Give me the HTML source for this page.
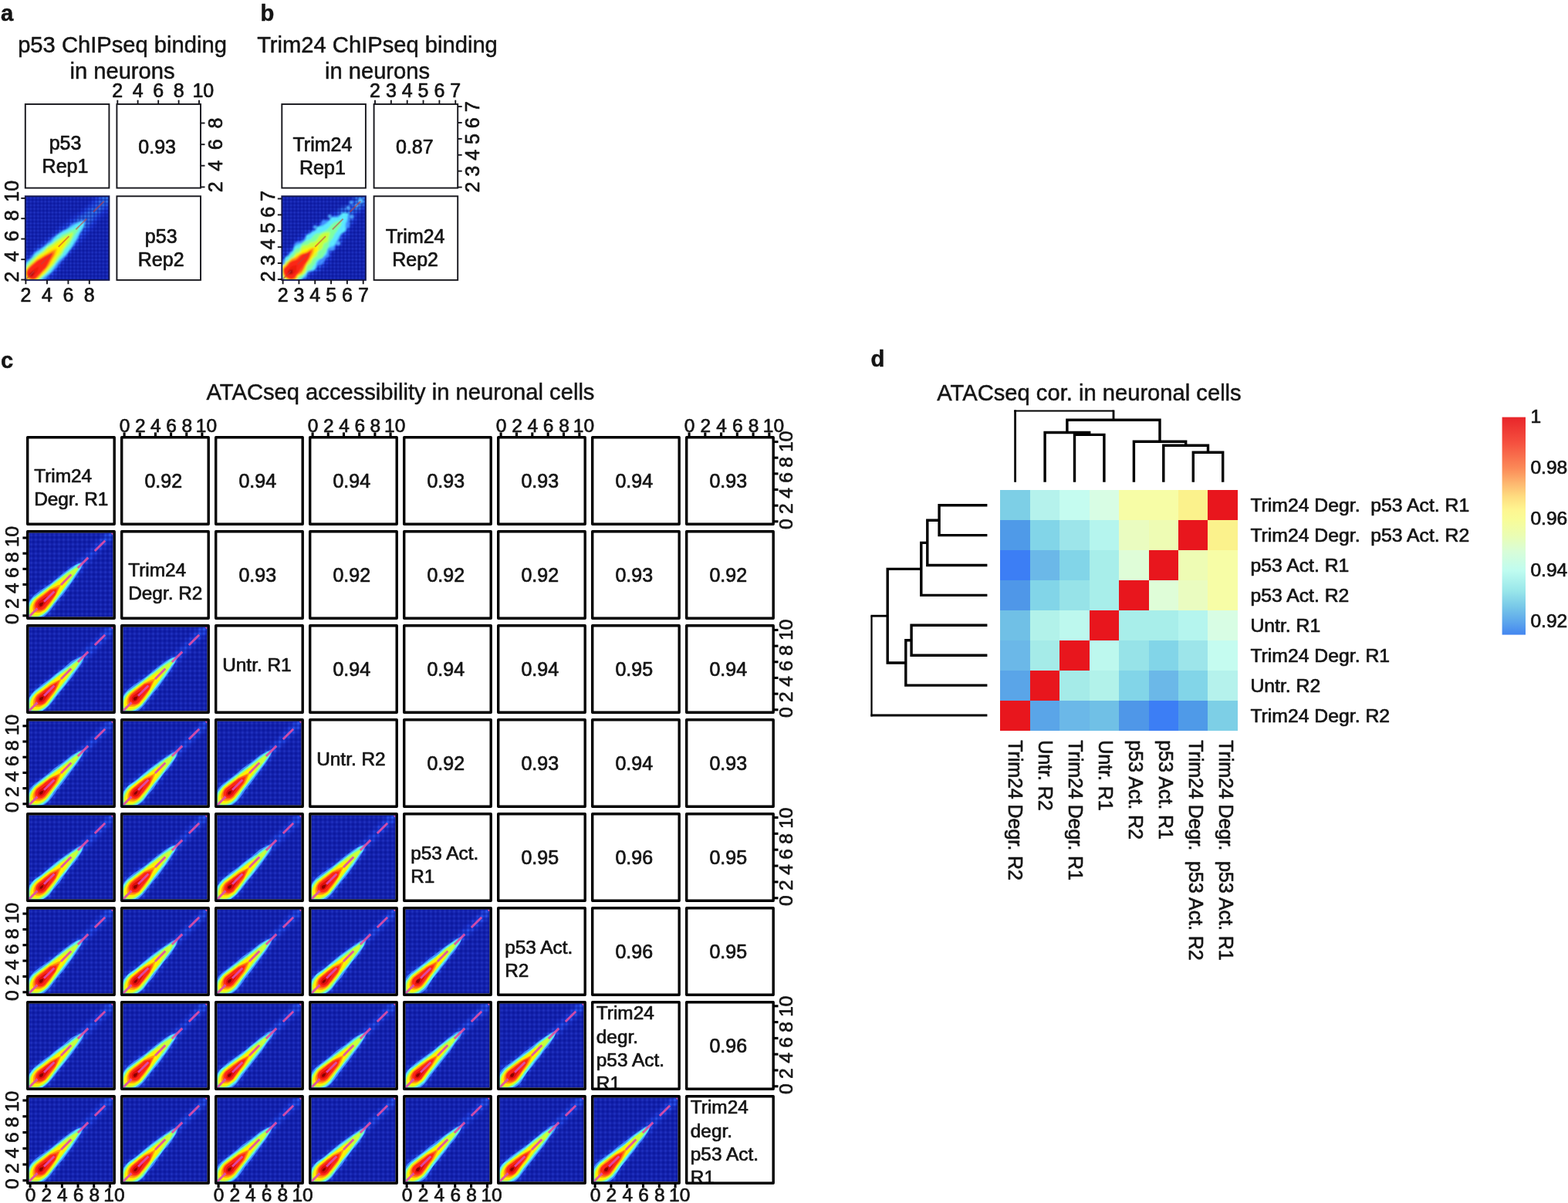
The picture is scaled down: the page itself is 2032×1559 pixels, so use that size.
<!DOCTYPE html>
<html lang="en"><head><meta charset="utf-8"><title>Figure</title>
<style>
html,body{margin:0;padding:0;background:#fff;overflow:hidden}
svg{display:block}
text{font-family:"Liberation Sans",sans-serif;fill:#141414;stroke:#141414;stroke-width:0.7px;stroke-linejoin:round}
.t{stroke-width:0.5px}
</style></head><body>
<svg width="2032" height="1559" viewBox="0 0 2032 1559" font-size="25">
<rect width="2032" height="1559" fill="#fff"/>
<defs>
<filter id="bl0" x="-5%" y="-5%" width="110%" height="110%"><feGaussianBlur stdDeviation="0.6"/></filter>
<filter id="bl1" x="-5%" y="-5%" width="110%" height="110%"><feGaussianBlur stdDeviation="0.8"/></filter>
<filter id="bl2" x="-10%" y="-10%" width="120%" height="120%"><feGaussianBlur stdDeviation="2.2"/></filter>
<clipPath id="clip112"><rect width="112.6" height="112.6"/></clipPath>
<clipPath id="clip108"><rect width="108.6" height="108.6"/></clipPath>
<linearGradient id="gh" x1="0" x2="1" y1="0" y2="0"><stop offset="0" stop-color="#000a8c" stop-opacity=".5"/><stop offset=".5" stop-color="#000a8c" stop-opacity="0"/><stop offset="1" stop-color="#000a8c" stop-opacity=".5"/></linearGradient>
<linearGradient id="gv" x1="0" x2="0" y1="0" y2="1"><stop offset="0" stop-color="#000a8c" stop-opacity=".5"/><stop offset=".5" stop-color="#000a8c" stop-opacity="0"/><stop offset="1" stop-color="#000a8c" stop-opacity=".5"/></linearGradient>
<pattern id="grid2" width="4.7" height="4.7" patternUnits="userSpaceOnUse"><rect width="4.7" height="4.7" fill="url(#gh)"/><rect width="4.7" height="4.7" fill="url(#gv)"/></pattern>
<pattern id="grid" width="6.2" height="6.2" patternUnits="userSpaceOnUse"><rect width="6.2" height="6.2" fill="url(#gh)"/><rect width="6.2" height="6.2" fill="url(#gv)"/></pattern>
<g id="dc_fat0"><rect width="112.6" height="112.6" fill="#2234c4"/><g clip-path="url(#clip112)"><g filter="url(#bl2)"><path d="M-4.9,117.5L-6.9,112.8L-7.6,109.2L-7.5,105.1L-6.9,101.4L-5.6,97.1L-3.7,93.3L-0.9,89.1L2.5,85.4L4.7,83.4L14.7,76.3L44.9,52.9L55.7,45.2L67.0,38.2L69.4,36.3L88.5,17.3L99.3,6.9L112.1,-7.2L116.7,-4.1L120.8,1.5L114.2,7.6L104.6,17.8L93.2,29.0L84.4,38.6L77.2,45.5L75.8,47.0L71.0,53.5L61.4,68.0L50.8,82.8L47.0,87.5L38.4,97.3L35.4,101.3L30.8,108.1L28.9,110.3L24.3,114.2L19.9,116.9L15.0,119.1L9.5,120.7L5.8,121.2L2.8,121.0L-1.2,119.9L-4.9,117.5Z" fill="#2a46ec"/><path d="M-3.2,115.8L-4.6,113.0L-5.5,109.2L-5.5,106.3L-4.9,102.7L-3.6,98.4L-1.8,94.5L1.0,90.2L3.7,87.2L6.0,85.2L14.2,79.3L30.8,66.1L41.7,58.5L53.2,48.8L56.5,46.4L65.2,40.9L69.4,38.0L89.0,20.7L95.5,14.5L98.9,10.8L103.9,4.4L109.5,-1.3L113.6,-5.7L116.7,-4.1L119.5,0.2L110.1,10.6L100.6,18.2L93.4,25.1L89.3,29.5L81.2,37.0L77.7,40.7L74.6,44.7L65.6,58.3L52.5,75.0L44.0,86.4L36.4,95.8L33.5,100.0L29.2,107.0L27.2,109.3L24.1,111.8L19.6,114.4L14.7,116.6L9.4,118.4L5.6,118.9L2.4,118.5L0.4,117.9L-3.2,115.8Z" fill="#3262ff"/></g><rect width="112.6" height="112.6" fill="url(#grid)"/><g filter="url(#bl0)"><path d="M-1.7,114.3L-2.7,111.8L-3.7,108.0L-3.8,106.5L-3.6,103.9L-2.8,100.4L-1.6,97.3L-0.0,94.6L2.5,91.4L6.6,86.9L8.9,84.9L18.8,77.7L30.4,67.9L38.3,61.6L50.6,52.4L65.0,42.6L66.9,41.6L70.1,40.5L73.9,38.7L73.0,43.4L71.4,47.6L70.4,49.4L64.3,59.0L61.2,63.0L56.4,68.2L53.7,71.3L47.8,79.6L41.5,89.0L39.0,92.2L33.0,99.0L28.2,105.7L26.9,107.2L23.6,109.7L15.6,114.5L12.7,115.9L10.6,116.6L6.9,117.1L3.7,116.8L1.6,116.2L-1.7,114.3Z" fill="#408cff"/><path d="M-0.4,113.0L-1.6,109.0L-1.9,107.3L-1.8,104.6L-1.0,101.1L0.1,97.9L1.9,94.1L4.2,90.6L6.8,87.6L9.1,85.6L16.8,80.5L23.7,74.6L29.3,70.3L36.3,64.5L42.8,59.6L57.0,49.6L65.5,43.9L72.1,40.5L71.3,45.5L71.0,46.5L70.0,48.5L67.2,52.8L58.5,63.9L49.5,76.3L42.9,83.8L38.4,89.3L30.9,100.3L27.1,105.0L24.3,107.9L21.3,110.6L18.7,112.2L14.7,113.9L10.3,115.2L7.8,115.6L4.8,115.4L2.9,115.0L-0.4,113.0Z" fill="#5ce8ff"/><path d="M0.8,111.8L0.0,109.5L-0.7,106.0L-0.7,104.6L-0.3,102.1L0.7,98.9L2.1,96.0L4.3,92.6L6.3,90.3L8.5,88.3L14.3,84.1L22.6,76.9L32.6,69.9L49.8,55.9L65.5,44.8L68.2,43.3L70.2,42.4L70.2,43.8L69.8,46.3L69.4,47.3L68.3,49.0L63.5,55.5L57.3,63.5L50.7,72.5L42.4,82.5L32.8,95.6L27.6,103.2L25.7,105.5L22.6,108.0L18.3,110.8L14.6,112.8L11.5,113.9L9.1,114.3L6.1,114.2L4.3,113.8L0.8,111.8Z" fill="#80ffa0"/><path d="M2.3,110.3L1.4,108.0L1.0,106.2L1.0,103.4L1.6,101.1L2.8,98.1L4.9,94.4L6.7,92.0L9.5,89.0L22.0,78.7L30.5,72.9L41.8,64.2L49.2,58.8L57.5,51.4L62.1,48.9L67.2,45.4L64.4,52.6L63.4,54.5L62.3,56.2L58.5,60.9L47.9,74.7L42.8,81.0L34.5,92.6L25.3,103.4L22.3,106.1L18.2,109.2L15.6,110.9L12.7,112.2L10.4,112.8L7.5,112.7L5.6,112.3L2.3,110.3Z" fill="#c8ff3c"/><path d="M3.9,108.7L3.1,106.5L2.7,104.7L2.8,101.9L3.4,99.6L4.5,96.5L6.0,93.7L7.2,92.0L9.1,89.7L11.4,87.7L28.7,75.0L42.4,64.5L46.0,62.4L50.8,60.0L55.9,56.7L52.9,63.6L48.9,71.0L46.0,75.2L43.0,79.3L37.1,86.3L31.5,93.5L23.1,103.7L20.9,105.7L18.4,107.5L15.6,109.1L12.5,110.2L10.1,110.6L6.9,110.3L3.9,108.7Z" fill="#fff200"/><path d="M6.7,105.9L6.0,102.3L6.0,100.9L6.4,98.4L7.2,96.3L8.1,94.4L10.6,91.2L12.1,89.8L29.0,76.6L31.7,75.0L39.5,71.3L44.0,68.6L42.0,73.8L36.2,85.2L32.1,91.1L22.4,102.9L20.1,104.9L18.4,106.1L16.4,107.0L14.2,107.7L11.5,107.8L9.7,107.5L6.7,105.9Z" fill="#ffa010"/><path d="M8.8,103.8L8.2,100.3L8.4,97.6L9.6,94.6L10.7,92.8L12.0,91.2L21.3,83.4L28.8,78.1L30.6,77.1L35.7,75.0L40.2,72.4L38.8,78.1L36.2,84.0L32.5,88.9L22.3,101.6L20.8,102.9L19.0,104.0L17.1,104.9L14.8,105.4L11.7,105.2L8.8,103.8Z" fill="#ff5a14"/><path d="M10.6,102.0L10.0,100.0L9.8,98.3L9.9,96.9L10.6,94.8L12.3,92.2L13.8,90.8L30.2,78.5L37.2,75.4L36.4,80.3L35.2,83.4L26.1,95.9L22.2,100.6L19.7,102.4L17.7,103.3L16.5,103.6L13.5,103.4L10.6,102.0Z" fill="#fc2616"/><path d="M12.7,99.9L12.5,98.2L12.5,96.8L12.7,95.6L13.2,94.7L14.4,93.1L19.4,89.6L24.0,87.1L28.3,84.3L26.5,89.6L25.2,92.5L22.4,96.8L20.6,99.3L19.0,100.5L18.0,100.9L16.8,101.1L15.3,101.1L12.7,99.9Z" fill="#dc0e0c"/><path d="M14.4,98.2L14.6,97.0L15.8,95.2L16.7,94.5L19.7,92.9L18.8,96.6L18.2,97.5L17.3,98.2L16.1,98.5L14.4,98.2Z" fill="#8c0000"/></g><line x1="0" y1="112.6" x2="112.6" y2="0" stroke="#e04ea8" stroke-width="3" stroke-dasharray="19.5 12.5" stroke-dashoffset="3.3" opacity="0.92"/></g></g>
<g id="dc_fat1"><rect width="112.6" height="112.6" fill="#2234c4"/><g clip-path="url(#clip112)"><g filter="url(#bl2)"><path d="M-4.9,117.5L-6.7,114.4L-8.0,110.3L-8.2,108.7L-8.2,105.9L-7.5,100.9L-6.3,96.4L-4.1,91.6L-0.7,86.4L3.2,81.8L20.7,68.2L30.0,62.0L43.3,52.7L54.6,44.2L67.2,35.6L78.2,25.3L81.6,21.6L86.0,16.1L88.7,13.2L106.5,-2.9L111.5,-7.8L116.7,-4.1L120.6,1.3L109.6,11.5L100.7,20.9L92.5,28.4L80.6,40.5L77.9,43.4L76.1,45.8L72.9,51.1L70.6,54.5L62.0,65.7L50.1,80.7L47.2,84.9L41.6,93.4L33.8,103.9L30.5,109.1L27.3,113.0L24.2,115.6L20.7,117.7L15.5,119.6L10.7,120.5L5.4,120.8L2.1,120.4L-2.2,118.9L-4.9,117.5Z" fill="#2a46ec"/><path d="M-3.2,115.8L-5.3,112.2L-6.4,108.3L-6.6,105.3L-6.0,101.6L-4.7,97.3L-2.8,93.5L0.0,89.2L3.3,85.4L5.6,83.4L11.6,79.5L15.7,76.5L36.2,60.2L51.3,49.7L63.4,40.5L75.0,32.3L79.0,29.2L88.5,20.2L94.0,14.4L96.5,11.2L101.2,3.2L102.4,1.5L105.9,-2.1L109.7,-5.4L112.1,-7.2L116.7,-4.1L118.9,-0.5L109.0,9.5L99.4,16.9L91.6,23.4L87.3,27.6L84.0,31.3L74.0,44.1L62.3,60.7L55.6,71.1L52.8,75.3L44.0,86.3L35.2,98.8L28.8,106.6L24.9,109.8L19.8,113.2L15.2,115.7L11.0,117.2L7.5,118.0L4.9,118.2L3.4,118.1L-0.5,117.0L-3.2,115.8Z" fill="#3262ff"/></g><rect width="112.6" height="112.6" fill="url(#grid)"/><g filter="url(#bl0)"><path d="M-1.7,114.3L-3.9,110.7L-4.5,108.7L-4.8,105.5L-4.3,101.7L-2.8,97.5L-0.7,93.8L2.7,88.7L5.9,84.8L8.9,82.1L12.1,79.6L30.7,66.8L44.7,55.1L56.1,46.5L62.3,42.8L65.2,41.3L69.4,39.9L73.9,38.7L70.0,47.6L62.2,59.8L46.7,81.4L39.4,89.7L28.3,104.3L25.6,107.3L22.6,110.1L19.4,112.5L15.6,114.5L12.5,115.6L8.9,116.3L6.2,116.4L4.6,116.3L0.7,115.3L-1.7,114.3Z" fill="#408cff"/><path d="M-0.4,113.0L-2.1,109.9L-2.6,108.0L-2.9,104.9L-2.5,102.4L-1.3,98.0L0.4,94.0L2.6,90.4L5.2,87.4L7.5,85.4L15.8,79.5L27.2,71.0L34.2,65.2L42.3,59.1L49.4,53.4L63.3,43.1L65.1,42.1L66.1,41.7L72.1,40.5L69.0,47.5L66.7,50.8L61.8,57.3L57.0,65.3L51.9,71.5L47.6,77.2L41.9,84.3L37.0,90.7L31.1,97.7L26.9,103.4L24.9,105.7L21.0,108.9L16.9,111.8L14.1,113.3L11.0,114.5L8.6,114.9L5.7,114.9L2.0,114.0L-0.4,113.0Z" fill="#5ce8ff"/><path d="M0.8,111.8L-1.0,108.5L-1.5,106.6L-1.6,103.6L-1.2,101.2L0.3,97.0L2.3,93.4L4.6,90.0L7.3,87.1L18.4,78.4L27.5,71.9L35.2,65.5L43.4,59.5L52.0,52.6L56.3,49.8L62.5,46.1L65.9,43.7L67.9,42.9L70.2,42.4L69.4,44.5L68.4,46.3L64.2,52.0L54.9,65.4L43.8,79.7L30.2,98.7L25.7,104.1L22.7,106.7L19.3,109.0L15.6,111.0L11.6,112.6L9.4,113.2L6.8,113.4L3.3,112.8L0.8,111.8Z" fill="#80ffa0"/><path d="M2.3,110.3L0.6,107.3L0.2,105.4L0.1,103.9L0.5,101.4L1.5,98.2L3.4,94.4L5.1,91.8L7.7,88.7L10.0,86.7L21.4,78.1L29.1,71.6L37.3,65.5L46.9,58.0L57.9,50.4L67.2,45.4L63.1,52.8L62.0,54.5L51.9,67.2L46.6,74.8L30.9,96.1L25.7,102.4L23.6,104.6L20.6,107.3L18.1,109.1L15.3,110.6L12.2,111.7L9.7,112.1L6.7,112.0L4.9,111.5L2.3,110.3Z" fill="#c8ff3c"/><path d="M3.9,108.7L2.3,105.7L1.9,103.9L1.8,102.3L2.1,99.7L2.7,97.5L4.0,94.6L5.7,92.0L7.7,89.7L10.0,87.7L17.0,81.9L31.2,71.8L40.7,64.3L42.5,63.2L50.1,59.4L55.9,56.7L52.9,62.2L49.2,69.8L48.1,71.6L35.3,87.4L27.1,99.2L24.0,103.1L21.7,105.1L19.0,106.7L15.2,108.6L12.0,109.7L9.5,110.0L8.0,109.9L6.2,109.6L3.9,108.7Z" fill="#fff200"/><path d="M6.7,105.9L5.3,103.1L5.0,101.3L5.1,98.5L5.7,96.3L7.0,93.3L8.7,90.7L10.0,89.2L13.2,86.6L28.8,74.9L38.6,70.4L44.0,68.6L41.4,73.2L36.6,82.8L31.6,90.6L29.2,94.0L22.7,101.8L21.2,103.2L18.6,104.9L16.7,105.8L14.6,106.6L12.1,107.0L10.6,106.9L8.9,106.7L6.7,105.9Z" fill="#ffa010"/><path d="M8.8,103.8L7.3,100.8L7.1,99.1L7.1,97.7L7.7,95.5L8.6,93.6L10.3,91.0L11.7,89.5L14.8,86.9L20.6,82.7L26.0,78.1L28.5,76.3L31.5,75.1L40.2,72.4L36.5,81.6L35.6,83.5L29.0,92.6L22.1,101.3L20.5,102.6L18.7,103.6L15.4,104.6L12.6,104.7L8.8,103.8Z" fill="#ff5a14"/><path d="M10.6,102.0L9.1,99.1L8.8,97.4L8.9,95.9L9.5,93.7L11.3,91.2L29.0,77.2L29.9,76.8L32.2,76.1L37.2,75.4L35.7,81.1L34.8,83.1L26.1,94.5L21.6,100.0L19.1,101.9L17.1,102.7L15.9,102.9L12.8,102.7L10.6,102.0Z" fill="#fc2616"/><path d="M12.7,99.9L11.7,97.4L11.7,96.0L11.9,94.8L12.3,93.8L13.5,92.1L20.0,87.4L22.9,86.0L28.3,84.3L23.5,92.2L19.3,98.0L17.8,99.3L16.9,99.8L14.4,100.1L12.7,99.9Z" fill="#dc0e0c"/><path d="M14.4,98.2L14.0,96.4L14.3,95.1L14.9,94.3L15.9,93.7L18.3,93.1L19.7,92.9L19.0,95.3L17.9,97.3L17.1,97.9L16.0,98.3L14.4,98.2Z" fill="#8c0000"/></g><line x1="0" y1="112.6" x2="112.6" y2="0" stroke="#e04ea8" stroke-width="3" stroke-dasharray="19.5 12.5" stroke-dashoffset="3.3" opacity="0.92"/></g></g>
<g id="dc_mid0"><rect width="112.6" height="112.6" fill="#2234c4"/><g clip-path="url(#clip112)"><g filter="url(#bl2)"><path d="M-4.9,117.5L-6.6,114.5L-7.8,110.4L-7.9,107.5L-7.1,102.7L-5.7,98.4L-3.3,93.7L0.1,88.6L4.0,84.1L5.5,82.7L44.5,52.4L48.6,49.5L58.9,42.8L66.9,36.7L69.1,34.6L77.3,25.9L84.8,19.2L91.9,12.2L97.5,6.5L105.7,-2.3L111.7,-7.6L116.7,-4.1L121.0,1.6L110.3,12.2L104.1,18.7L94.1,28.6L88.7,34.4L79.1,43.2L76.3,46.1L64.9,60.1L61.4,65.1L53.6,77.1L44.8,88.2L36.0,100.5L30.6,107.8L29.2,109.3L23.9,113.9L19.8,116.8L15.1,119.2L10.8,120.5L5.7,121.2L2.7,120.9L-1.5,119.6L-4.9,117.5Z" fill="#2a46ec"/><path d="M-3.2,115.8L-4.4,113.2L-5.3,109.4L-5.4,107.9L-5.2,105.3L-4.4,101.8L-2.9,97.6L-0.4,93.0L2.4,88.7L5.6,84.8L7.9,82.9L12.1,80.0L26.7,70.5L32.6,66.4L35.7,63.8L42.1,57.6L45.2,54.9L62.6,42.5L69.5,36.7L78.4,28.6L88.1,21.2L89.5,19.9L96.4,12.5L104.5,2.2L109.3,-2.9L113.0,-6.3L116.7,-4.1L119.8,0.5L110.3,10.8L100.5,18.1L93.6,23.9L84.7,33.5L77.8,42.1L71.8,50.3L64.8,58.9L57.6,68.8L40.2,89.7L36.1,95.4L29.3,105.7L26.7,108.7L22.8,112.0L19.3,114.1L14.5,116.4L9.2,118.2L5.5,118.8L2.3,118.5L0.3,117.9L-3.2,115.8Z" fill="#3262ff"/></g><rect width="112.6" height="112.6" fill="url(#grid)"/><g filter="url(#bl0)"><path d="M-1.7,114.3L-2.9,111.6L-3.8,107.9L-3.8,105.1L-3.1,101.5L-2.0,98.4L0.1,94.8L4.2,89.0L6.8,85.9L20.1,75.2L27.6,69.9L36.1,62.8L46.0,55.7L56.5,46.4L59.1,44.7L66.5,40.8L71.6,38.8L75.5,37.1L72.1,46.4L70.6,49.1L68.3,52.5L63.4,58.9L57.6,67.3L47.5,79.9L41.1,87.6L32.5,98.8L26.6,105.8L22.1,109.7L18.0,112.7L14.4,114.8L10.3,116.4L6.7,117.0L3.6,116.8L1.6,116.2L-1.7,114.3Z" fill="#408cff"/><path d="M-0.4,113.0L-1.8,110.3L-2.5,106.7L-2.3,104.0L-1.5,100.5L-0.3,97.4L1.7,93.8L4.1,90.5L7.4,86.7L9.8,84.8L17.4,79.6L23.9,74.7L37.0,63.6L43.5,58.7L52.9,52.5L59.2,47.4L66.7,42.1L68.6,41.1L73.6,39.0L72.2,43.2L71.2,45.2L64.6,55.6L55.8,66.7L48.1,77.5L39.6,87.5L27.3,103.7L25.3,106.0L21.5,109.3L17.5,112.4L14.7,113.9L11.6,115.1L7.9,115.7L4.8,115.4L2.9,114.9L-0.4,113.0Z" fill="#5ce8ff"/><path d="M0.8,111.8L-0.4,109.1L-1.0,105.7L-0.8,103.0L-0.2,100.7L1.0,97.7L2.6,95.1L5.1,91.9L7.9,89.0L10.1,87.0L18.3,81.0L30.8,70.9L45.3,59.8L53.1,53.5L62.1,46.9L67.7,42.6L69.6,41.6L71.7,40.9L71.1,43.1L70.2,45.1L65.5,51.7L56.1,63.6L45.4,78.3L39.0,86.2L33.8,93.6L25.2,105.0L22.1,107.5L18.6,109.7L14.8,111.5L10.7,113.1L8.3,113.5L5.5,113.5L3.7,113.2L0.8,111.8Z" fill="#80ffa0"/><path d="M2.3,110.3L1.4,108.0L1.0,106.2L1.0,103.3L1.5,101.0L2.6,97.9L4.1,95.0L6.4,91.6L8.4,89.3L9.8,87.9L23.4,77.2L30.9,71.9L42.2,63.2L50.5,57.3L60.1,49.8L68.6,44.0L64.7,51.5L63.0,54.1L46.7,74.8L38.9,84.2L25.8,102.4L23.8,104.8L20.8,107.4L18.2,109.2L15.4,110.7L12.3,111.8L9.8,112.2L6.8,112.1L5.0,111.6L2.3,110.3Z" fill="#c8ff3c"/><path d="M3.9,108.7L3.1,106.5L2.6,103.2L3.1,99.4L3.8,97.3L5.2,94.4L6.4,92.8L8.4,90.5L10.7,88.5L18.2,83.3L42.8,63.9L50.1,59.9L57.0,55.6L51.7,65.8L49.6,69.4L37.6,84.3L30.2,95.3L23.9,103.2L21.6,105.2L18.2,107.5L15.4,108.9L12.3,110.1L10.0,110.5L8.5,110.5L6.8,110.2L3.9,108.7Z" fill="#fff200"/><path d="M6.7,105.9L5.8,103.5L5.5,101.8L5.7,99.1L6.3,96.9L7.3,95.0L9.0,92.4L10.3,90.8L11.8,89.5L19.3,84.1L28.9,76.5L31.6,74.9L39.4,71.2L44.7,67.9L41.9,73.7L35.9,84.9L31.8,90.8L22.8,101.9L21.3,103.2L18.7,104.9L15.8,106.4L13.6,107.1L11.0,107.3L9.3,107.1L6.7,105.9Z" fill="#ffa010"/><path d="M8.8,103.8L8.1,101.6L7.8,99.9L8.1,97.3L9.3,94.3L10.4,92.5L11.7,91.0L16.5,87.2L30.7,77.2L40.9,71.7L37.8,80.1L35.9,83.8L24.2,99.2L22.2,101.5L20.6,102.7L18.8,103.8L16.8,104.6L14.5,105.2L11.4,104.9L8.8,103.8Z" fill="#ff5a14"/><path d="M10.6,102.0L9.9,99.9L9.9,97.0L10.6,94.8L12.4,92.3L21.7,84.4L29.9,78.4L31.7,77.4L37.8,74.8L36.5,79.3L35.2,82.3L26.5,93.5L22.3,99.4L21.0,101.0L18.5,102.7L16.3,103.4L14.9,103.4L13.3,103.2L10.6,102.0Z" fill="#fc2616"/><path d="M12.7,99.9L12.4,98.1L12.6,95.5L13.0,94.5L14.2,92.9L15.7,91.6L19.9,88.7L28.3,84.3L26.3,89.4L25.0,92.3L20.1,98.8L18.5,100.0L16.3,100.7L14.9,100.7L12.7,99.9Z" fill="#dc0e0c"/><path d="M14.4,98.2L14.2,96.6L14.6,95.4L15.2,94.6L16.2,94.0L19.7,92.9L19.2,95.6L18.9,96.7L18.3,97.6L17.4,98.2L16.1,98.5L14.4,98.2Z" fill="#8c0000"/></g><line x1="0" y1="112.6" x2="112.6" y2="0" stroke="#e04ea8" stroke-width="3" stroke-dasharray="19.5 12.5" stroke-dashoffset="3.3" opacity="0.92"/></g></g>
<g id="dc_mid1"><rect width="112.6" height="112.6" fill="#2234c4"/><g clip-path="url(#clip112)"><g filter="url(#bl2)"><path d="M-4.9,117.5L-7.6,113.5L-8.8,109.5L-9.0,106.4L-8.3,101.4L-7.0,97.2L-4.5,92.5L-1.5,88.4L2.5,84.0L4.8,82.0L14.9,75.1L23.6,68.4L36.6,58.7L48.5,49.4L61.9,40.1L68.3,35.3L83.8,21.0L86.4,18.0L91.9,10.7L94.5,7.7L96.8,5.8L105.5,-1.1L112.1,-7.2L116.7,-4.1L120.5,1.2L115.6,6.1L106.6,15.6L93.7,26.7L90.1,30.1L84.5,35.8L79.2,41.9L77.3,44.2L70.6,54.6L66.0,61.2L60.4,68.4L46.4,85.5L42.8,90.4L35.5,101.4L29.8,108.5L24.5,113.0L19.6,116.7L15.1,119.2L10.9,120.6L8.5,121.1L5.8,121.3L2.7,121.0L-1.4,119.6L-4.9,117.5Z" fill="#2a46ec"/><path d="M-3.2,115.8L-5.4,112.1L-6.1,110.1L-6.5,106.8L-5.9,103.1L-4.4,98.9L-2.0,94.3L0.8,90.0L4.1,86.2L6.4,84.2L10.7,81.4L14.0,79.0L29.5,66.2L47.8,51.8L52.7,48.3L60.5,43.3L64.7,40.4L69.5,36.7L78.7,28.9L82.5,25.6L91.8,16.4L96.3,12.4L99.6,8.6L103.8,3.0L113.0,-6.4L116.7,-4.1L117.7,-1.6L114.5,2.3L109.8,8.9L107.6,11.0L100.3,16.4L97.3,19.1L92.4,24.1L88.5,28.8L76.5,42.3L68.3,52.5L52.1,74.6L45.3,83.4L37.2,95.2L34.0,99.1L27.2,106.5L22.0,111.1L18.7,113.6L15.1,115.6L11.1,117.3L7.6,118.0L4.9,118.2L3.4,118.1L-0.5,117.0L-3.2,115.8Z" fill="#3262ff"/></g><rect width="112.6" height="112.6" fill="url(#grid)"/><g filter="url(#bl0)"><path d="M-1.7,114.3L-3.4,111.2L-4.3,107.4L-4.3,104.6L-3.7,101.0L-2.6,97.8L-0.8,94.0L2.2,89.8L5.5,86.1L24.7,71.2L34.6,62.7L45.5,55.2L57.4,45.8L60.9,43.6L66.3,40.6L75.5,37.1L71.5,45.8L65.6,55.4L58.2,65.0L46.9,80.7L37.5,92.6L31.7,100.9L28.5,104.9L26.5,107.1L23.5,109.7L20.1,112.0L14.3,114.7L10.1,116.2L6.5,116.8L3.4,116.6L1.5,116.0L-1.7,114.3Z" fill="#408cff"/><path d="M-0.4,113.0L-1.8,110.3L-2.5,106.7L-2.3,104.0L-1.8,101.7L-0.7,98.5L1.2,94.7L4.1,90.5L7.4,86.6L12.0,82.7L24.1,73.4L38.8,62.6L57.6,47.2L67.2,41.1L73.6,39.0L71.1,45.1L65.4,53.6L58.6,62.5L52.9,69.5L48.0,76.1L42.9,82.3L36.1,91.1L33.7,94.4L27.5,103.9L25.6,106.3L22.5,108.9L19.1,111.2L15.3,113.1L11.1,114.6L8.8,115.1L6.1,115.2L2.5,114.5L-0.4,113.0Z" fill="#5ce8ff"/><path d="M0.8,111.8L-0.8,108.7L-1.2,106.8L-1.4,103.9L-1.0,101.4L0.1,98.3L2.1,94.6L4.6,91.4L7.3,88.4L17.2,79.9L27.7,72.0L34.7,66.2L50.5,55.1L62.2,45.6L67.3,42.1L69.3,41.4L71.7,40.9L70.6,44.1L69.6,45.9L66.7,50.1L61.7,56.4L55.7,64.6L50.2,71.8L43.1,80.3L32.1,94.8L27.5,100.1L24.4,104.1L22.4,106.3L19.3,109.0L16.7,110.6L13.8,112.0L10.6,113.0L8.2,113.5L5.3,113.4L3.4,112.9L0.8,111.8Z" fill="#80ffa0"/><path d="M2.3,110.3L1.2,107.9L0.9,106.1L0.8,103.2L1.2,100.8L2.3,97.5L3.7,94.6L5.8,91.1L8.4,87.9L11.5,85.3L19.2,80.2L31.2,70.8L41.3,63.8L49.9,56.7L59.5,49.2L68.6,44.0L63.9,52.1L62.2,54.7L55.0,63.2L50.7,68.9L46.2,74.4L41.1,82.1L35.3,89.2L30.1,96.8L25.1,103.2L23.0,105.4L20.8,107.4L18.2,109.2L15.3,110.6L12.1,111.6L9.7,112.0L6.7,111.9L4.8,111.5L2.3,110.3Z" fill="#c8ff3c"/><path d="M3.9,108.7L2.5,105.9L2.2,104.2L2.1,102.7L2.5,100.2L3.6,97.0L5.0,94.3L7.4,90.9L9.4,88.7L12.6,86.2L26.6,76.1L35.8,68.3L42.2,63.4L48.5,59.7L57.0,55.6L51.5,64.2L48.4,69.6L39.6,82.0L35.9,86.8L29.4,94.5L24.2,102.0L22.8,103.6L20.6,105.5L18.0,107.2L15.1,108.6L12.0,109.7L9.5,110.1L8.1,110.1L6.3,109.8L3.9,108.7Z" fill="#fff200"/><path d="M6.7,105.9L5.3,103.0L5.0,101.3L5.2,98.6L5.9,96.5L7.3,93.5L8.9,90.9L10.2,89.3L12.6,87.4L28.4,75.9L30.2,74.9L36.2,72.2L44.7,67.9L42.3,72.6L39.2,79.6L37.3,83.4L24.8,99.6L22.8,101.9L21.3,103.3L18.8,105.0L16.9,106.0L14.8,106.8L12.3,107.2L10.8,107.1L9.1,106.8L6.7,105.9Z" fill="#ffa010"/><path d="M8.8,103.8L7.6,101.1L7.3,99.4L7.5,96.7L8.7,93.7L9.8,91.9L11.1,90.4L17.6,85.4L23.8,80.3L28.7,76.7L32.5,74.8L40.9,71.7L37.5,79.8L36.1,82.6L21.8,101.1L20.3,102.4L18.6,103.5L15.5,104.7L12.8,104.8L11.1,104.6L8.8,103.8Z" fill="#ff5a14"/><path d="M10.6,102.0L9.2,99.2L9.0,97.5L9.0,96.1L9.2,94.9L10.1,92.9L11.9,90.4L23.3,81.7L29.2,77.7L32.2,76.4L37.8,74.8L35.6,81.2L34.6,83.1L27.8,92.1L21.4,100.0L19.0,101.8L17.0,102.7L15.9,102.9L12.8,102.8L10.6,102.0Z" fill="#fc2616"/><path d="M12.7,99.9L12.0,97.7L12.0,96.3L12.3,95.2L12.7,94.2L13.9,92.6L21.4,87.4L28.3,84.3L24.7,92.0L19.9,98.5L18.3,99.8L17.3,100.2L16.2,100.5L14.8,100.5L12.7,99.9Z" fill="#dc0e0c"/><path d="M14.4,98.2L14.2,96.6L14.6,95.4L15.2,94.6L16.1,93.9L17.2,93.5L19.7,92.9L19.0,95.3L18.6,96.4L17.9,97.3L17.1,97.9L15.9,98.3L14.4,98.2Z" fill="#8c0000"/></g><line x1="0" y1="112.6" x2="112.6" y2="0" stroke="#e04ea8" stroke-width="3" stroke-dasharray="19.5 12.5" stroke-dashoffset="3.3" opacity="0.92"/></g></g>
<g id="dc_thin0"><rect width="112.6" height="112.6" fill="#2234c4"/><g clip-path="url(#clip112)"><g filter="url(#bl2)"><path d="M-4.9,117.5L-6.9,114.2L-8.1,110.1L-8.3,107.1L-7.7,102.1L-6.3,97.8L-3.9,93.1L-1.0,89.0L1.7,86.0L4.7,83.3L28.6,66.2L41.2,56.2L53.2,45.6L68.9,34.4L71.2,32.5L83.5,20.8L97.0,6.0L111.3,-8.0L116.7,-4.1L120.8,1.4L116.2,6.8L112.7,10.4L92.1,29.3L83.5,37.7L79.3,42.0L66.6,57.6L59.2,68.6L56.9,71.9L49.1,81.1L42.9,89.1L37.7,96.5L30.6,107.8L28.6,110.1L24.9,113.4L20.7,116.3L15.9,118.6L11.6,119.9L7.9,120.5L3.7,120.5L0.1,119.8L-2.2,118.9L-4.9,117.5Z" fill="#2a46ec"/><path d="M-3.2,115.8L-5.5,112.0L-6.1,110.0L-6.5,106.8L-6.0,103.1L-4.6,98.8L-2.2,94.1L1.0,88.8L4.2,84.8L5.7,83.5L7.3,82.3L17.0,76.3L22.0,72.9L35.3,62.0L56.6,46.5L63.0,41.5L70.0,35.7L80.9,25.4L88.4,18.7L91.8,15.0L98.9,7.9L102.8,3.3L112.3,-7.1L116.7,-4.1L118.9,-0.4L109.3,9.8L106.0,12.2L98.2,17.2L95.1,19.7L91.5,23.2L74.7,46.1L59.0,64.5L50.6,76.0L40.6,88.6L28.0,105.8L25.3,108.8L22.4,111.5L18.2,114.5L14.5,116.4L10.2,117.8L6.6,118.4L3.7,118.4L-0.1,117.4L-3.2,115.8Z" fill="#3262ff"/></g><rect width="112.6" height="112.6" fill="url(#grid)"/><g filter="url(#bl0)"><path d="M-1.7,114.3L-3.8,110.7L-4.4,108.7L-4.7,105.6L-4.4,103.1L-3.7,100.9L-2.8,99.0L-0.3,94.4L2.6,90.2L5.3,87.2L13.5,79.8L24.4,72.2L38.4,62.0L45.2,56.1L50.9,51.8L56.9,46.5L62.9,42.5L67.6,38.6L69.4,37.7L77.2,35.4L74.5,42.8L72.9,45.4L66.5,53.2L59.8,63.6L54.0,70.5L47.9,78.6L39.0,89.6L27.4,105.1L24.8,108.1L21.8,110.8L18.4,113.1L14.5,114.9L10.2,116.2L6.5,116.8L3.4,116.5L1.4,116.0L-1.7,114.3Z" fill="#408cff"/><path d="M-0.4,113.0L-2.2,109.9L-2.6,108.0L-2.6,105.1L-2.1,102.7L-0.7,98.5L1.4,93.5L3.6,90.0L5.6,87.7L7.2,86.4L12.3,82.9L24.5,73.7L33.7,67.3L43.6,58.6L57.9,47.3L64.9,42.9L69.1,39.9L71.0,39.0L75.2,37.4L71.8,44.0L64.2,55.0L53.7,68.7L47.9,75.8L38.6,87.9L32.1,95.7L27.1,103.4L25.1,105.8L22.0,108.4L18.7,110.7L14.8,112.6L11.6,113.6L8.1,114.4L5.4,114.6L2.0,114.0L-0.4,113.0Z" fill="#5ce8ff"/><path d="M0.8,111.8L-0.7,108.8L-1.1,107.0L-1.2,104.1L-0.7,101.7L0.5,98.6L2.5,94.9L4.7,91.5L7.4,88.5L8.9,87.1L15.5,82.5L22.7,76.9L35.1,68.0L38.2,65.4L44.0,59.8L47.0,57.2L56.9,50.0L67.3,42.0L69.9,40.4L73.2,39.4L72.1,42.6L71.0,44.3L48.7,73.1L32.8,92.6L25.5,102.3L23.5,104.6L20.5,107.3L17.2,109.7L14.5,111.2L11.5,112.5L9.3,113.1L6.7,113.4L3.3,112.8L0.8,111.8Z" fill="#80ffa0"/><path d="M2.3,110.3L1.3,107.9L0.9,104.7L1.1,102.0L1.6,99.7L2.8,96.6L4.3,93.8L6.1,91.4L8.2,89.1L16.9,82.2L34.1,69.4L48.2,57.9L56.5,51.9L61.1,47.9L64.6,45.7L70.0,42.6L63.3,53.0L54.9,63.1L48.8,69.9L36.9,86.4L30.4,94.3L26.6,100.4L24.7,102.8L22.4,104.8L17.3,108.3L14.6,109.9L11.7,111.2L9.4,111.7L6.5,111.7L4.7,111.4L2.3,110.3Z" fill="#c8ff3c"/><path d="M3.9,108.7L2.4,105.8L2.1,104.1L2.1,102.7L2.7,100.3L3.9,97.3L5.9,93.6L7.7,91.1L9.7,88.8L11.2,87.5L22.8,79.1L30.6,74.0L39.1,66.8L43.9,63.1L50.9,58.7L58.2,54.4L51.8,65.2L50.0,67.8L40.5,79.6L35.0,87.0L30.4,92.4L25.2,100.0L23.3,102.4L20.2,105.0L16.9,107.4L14.1,108.9L12.1,109.7L9.7,110.2L8.2,110.2L6.4,109.8L3.9,108.7Z" fill="#fff200"/><path d="M6.7,105.9L5.6,103.3L5.3,101.6L5.5,98.9L6.2,96.8L7.2,94.9L8.9,92.3L10.9,90.0L15.5,86.0L18.7,83.5L29.0,76.5L39.0,70.7L45.5,67.1L36.5,82.5L30.7,89.6L24.7,98.1L22.2,101.3L19.9,103.3L17.4,105.1L15.5,106.1L13.4,106.8L10.7,107.0L9.1,106.8L6.7,105.9Z" fill="#ffa010"/><path d="M8.8,103.8L7.6,101.1L7.4,99.5L7.4,98.1L7.6,96.9L8.4,94.8L9.5,93.1L10.8,91.5L16.5,87.3L22.8,82.2L30.1,76.7L34.7,74.2L41.5,71.1L35.4,82.1L27.4,92.5L22.1,100.0L20.8,101.5L19.2,102.8L17.4,103.8L15.4,104.6L14.2,104.9L12.8,104.9L11.2,104.7L8.8,103.8Z" fill="#ff5a14"/><path d="M10.6,102.0L9.5,99.5L9.3,97.9L9.4,96.5L9.7,95.4L10.5,93.4L12.4,91.0L15.6,88.5L31.5,77.3L33.3,76.3L38.4,74.2L35.5,79.9L34.4,81.7L21.4,99.9L19.0,101.8L17.0,102.7L15.8,102.9L12.8,102.8L10.6,102.0Z" fill="#fc2616"/><path d="M12.7,99.9L12.3,98.1L12.8,95.7L13.2,94.7L14.4,93.1L16.0,91.8L22.8,87.3L28.3,84.3L24.4,91.7L19.8,98.5L18.3,99.8L17.3,100.2L16.2,100.5L14.7,100.5L12.7,99.9Z" fill="#dc0e0c"/><path d="M14.4,98.2L14.2,96.6L14.6,95.4L15.2,94.6L17.2,93.6L19.7,92.9L18.6,96.4L18.0,97.3L17.1,98.0L16.0,98.3L14.4,98.2Z" fill="#8c0000"/></g><line x1="0" y1="112.6" x2="112.6" y2="0" stroke="#e04ea8" stroke-width="3" stroke-dasharray="19.5 12.5" stroke-dashoffset="3.3" opacity="0.92"/></g></g>
<g id="dc_thin1"><rect width="112.6" height="112.6" fill="#2234c4"/><g clip-path="url(#clip112)"><g filter="url(#bl2)"><path d="M-4.9,117.5L-6.9,114.2L-8.1,110.1L-8.3,107.1L-7.7,102.1L-6.5,97.6L-4.4,92.6L-1.3,87.2L1.8,83.3L4.1,81.3L13.0,76.1L16.4,73.9L28.4,64.6L42.4,54.6L55.9,45.5L62.3,40.6L69.8,33.9L77.4,26.0L111.7,-7.7L116.7,-4.1L120.9,1.6L110.5,11.0L100.1,21.8L89.0,31.9L84.2,37.0L76.7,46.5L68.8,55.6L61.1,66.3L53.2,76.7L41.8,90.7L37.8,96.6L31.3,108.5L29.4,110.9L27.2,112.9L24.8,114.8L20.4,117.4L15.4,119.5L10.9,120.7L5.8,121.2L2.7,120.9L-1.5,119.6L-4.9,117.5Z" fill="#2a46ec"/><path d="M-3.2,115.8L-4.6,112.9L-5.7,109.0L-5.8,107.5L-5.7,104.8L-5.0,101.2L-3.4,97.1L-1.5,93.4L1.3,89.1L5.1,84.4L8.1,81.7L12.9,78.0L25.8,69.6L36.7,60.7L45.7,54.0L55.3,46.6L65.3,39.6L85.4,24.2L89.0,20.8L94.9,13.8L102.7,3.2L112.9,-6.4L116.7,-4.1L119.0,-0.3L109.9,10.4L105.9,13.5L98.5,18.9L92.4,24.1L85.9,31.8L76.9,41.2L69.6,50.9L58.8,65.8L46.0,82.7L37.8,93.0L34.3,98.0L28.9,106.7L26.9,109.0L23.1,112.3L19.7,114.6L15.0,117.0L10.8,118.4L8.4,118.9L5.8,119.1L2.6,118.7L0.6,118.1L-3.2,115.8Z" fill="#3262ff"/></g><rect width="112.6" height="112.6" fill="url(#grid)"/><g filter="url(#bl0)"><path d="M-1.7,114.3L-3.1,111.4L-3.9,107.8L-3.9,105.0L-3.0,100.2L-2.0,96.9L-0.1,93.1L2.3,89.8L5.0,86.9L8.0,84.2L23.7,72.9L31.3,66.3L41.3,59.2L52.4,50.5L68.3,39.4L77.2,35.4L75.2,40.6L73.8,43.5L67.3,54.0L65.5,56.4L58.9,64.1L53.6,71.5L48.5,77.8L44.3,83.5L36.9,91.8L34.6,95.2L29.4,104.2L28.2,105.9L26.9,107.4L23.8,109.9L19.3,112.6L14.5,114.9L10.2,116.3L7.9,116.7L5.1,116.8L1.4,115.9L-1.7,114.3Z" fill="#408cff"/><path d="M-0.4,113.0L-1.8,110.2L-2.6,106.6L-2.5,103.8L-2.0,101.5L-0.7,98.4L0.8,95.7L5.0,89.9L7.6,86.8L14.1,81.9L21.9,75.5L32.8,67.7L42.1,61.4L44.4,59.4L50.9,53.1L59.8,46.3L68.3,40.5L75.2,37.4L73.5,42.9L72.1,45.8L69.6,48.9L61.0,58.9L54.6,68.2L48.1,76.0L32.0,98.3L26.8,104.6L24.6,106.6L18.1,111.5L14.4,113.6L11.3,114.8L7.6,115.4L4.5,115.1L2.6,114.6L-0.4,113.0Z" fill="#5ce8ff"/><path d="M0.8,111.8L-0.6,108.9L-1.0,107.0L-1.1,104.2L-0.3,100.7L0.9,97.6L2.4,94.8L4.8,91.6L7.6,88.7L9.8,86.7L16.2,81.7L40.8,63.7L46.3,59.3L53.0,53.3L61.3,47.4L68.4,41.7L70.1,40.6L73.2,39.4L72.5,41.6L71.7,43.5L66.5,51.1L63.9,54.2L57.1,61.6L51.8,69.1L45.3,76.7L26.3,103.1L24.3,105.4L22.0,107.4L18.6,109.7L14.9,111.6L10.8,113.2L8.5,113.7L5.6,113.7L3.8,113.3L0.8,111.8Z" fill="#80ffa0"/><path d="M2.3,110.3L1.3,107.9L0.9,106.1L0.8,103.2L1.3,100.9L2.5,97.7L3.9,94.9L6.2,91.4L8.1,89.1L10.4,87.1L18.0,81.8L25.9,75.5L39.7,65.0L48.1,57.8L53.7,53.3L61.2,48.0L70.0,42.6L64.6,51.4L54.2,65.3L48.3,72.2L35.5,87.9L33.1,91.2L27.5,99.9L24.3,103.9L21.2,106.5L17.9,108.8L15.2,110.4L12.1,111.6L9.8,112.1L6.9,112.1L5.1,111.7L2.3,110.3Z" fill="#c8ff3c"/><path d="M3.9,108.7L2.9,106.3L2.6,104.5L2.6,101.7L3.1,99.3L3.9,97.3L5.4,94.5L7.2,92.1L9.2,89.8L11.5,87.7L20.4,81.0L30.8,72.8L39.2,66.9L44.5,62.2L47.2,60.6L53.7,57.2L58.2,54.4L50.4,68.1L47.5,72.4L45.7,74.8L39.5,81.5L30.2,95.0L27.0,99.0L23.7,102.8L20.6,105.4L17.3,107.8L14.5,109.3L12.4,110.1L10.0,110.5L8.5,110.5L6.7,110.1L3.9,108.7Z" fill="#fff200"/><path d="M6.7,105.9L5.8,103.5L5.5,101.8L5.4,100.3L5.9,97.9L6.6,95.7L7.6,93.8L9.3,91.3L10.7,89.8L19.5,82.8L28.7,76.2L37.3,71.8L45.5,67.1L40.8,76.8L37.8,82.4L30.8,91.2L25.0,99.7L23.1,102.1L21.6,103.5L19.0,105.2L16.1,106.6L13.9,107.3L11.2,107.5L9.5,107.2L6.7,105.9Z" fill="#ffa010"/><path d="M8.8,103.8L7.8,101.3L7.5,99.6L7.8,97.0L9.1,94.1L10.3,92.4L11.6,90.9L30.1,76.7L32.8,75.1L41.5,71.1L38.9,77.0L36.4,81.6L27.7,94.2L22.2,101.5L20.7,102.8L19.0,104.0L16.0,105.2L13.3,105.4L11.6,105.1L8.8,103.8Z" fill="#ff5a14"/><path d="M10.6,102.0L9.4,99.4L9.1,97.7L9.2,96.3L9.8,94.1L11.6,91.6L13.1,90.3L19.0,86.2L30.3,77.6L32.2,76.6L38.4,74.2L36.9,78.4L35.5,81.3L24.9,96.3L21.7,100.3L19.3,102.1L17.2,102.9L16.0,103.1L12.9,102.9L10.6,102.0Z" fill="#fc2616"/><path d="M12.7,99.9L13.6,96.5L14.1,95.6L15.4,94.0L28.3,84.3L24.8,92.1L22.0,96.4L20.1,98.8L18.5,100.0L17.5,100.4L16.3,100.6L14.9,100.6L12.7,99.9Z" fill="#dc0e0c"/><path d="M14.4,98.2L14.3,96.7L14.7,95.5L15.3,94.6L16.2,94.0L17.3,93.6L19.7,92.9L19.3,95.6L18.9,96.7L18.3,97.7L17.4,98.3L16.2,98.5L14.4,98.2Z" fill="#8c0000"/></g><line x1="0" y1="112.6" x2="112.6" y2="0" stroke="#e04ea8" stroke-width="3" stroke-dasharray="19.5 12.5" stroke-dashoffset="3.3" opacity="0.92"/></g></g>
<g id="da"><rect width="108.6" height="108.6" fill="#2236c6"/><g clip-path="url(#clip108)"><g filter="url(#bl2)"><path d="M-5.7,114.3L-8.9,109.6L-10.2,106.9L-11.0,104.6L-11.5,102.8L-11.6,101.2L-11.6,98.5L-11.0,96.2L-9.7,93.2L-4.8,86.8L-1.7,81.4L0.1,79.0L11.2,70.3L14.1,67.5L21.6,59.4L23.8,57.4L25.4,56.2L30.8,53.1L33.1,51.2L43.2,40.1L45.7,38.4L50.6,36.2L52.4,35.1L53.9,33.8L57.6,29.0L59.1,27.7L60.7,26.5L66.3,23.5L68.0,22.4L82.1,11.1L84.1,8.9L88.1,3.0L93.0,-3.5L95.6,-6.5L98.6,-9.2L105.3,-13.8L107.7,-15.6L116.7,-8.1L126.3,2.9L120.9,6.0L118.4,7.8L115.6,10.7L111.3,16.3L108.5,19.2L104.0,23.1L97.3,27.7L95.2,29.9L94.0,31.5L90.9,36.9L89.2,39.5L84.6,44.7L78.9,50.3L77.7,51.9L75.2,56.5L74.0,58.2L72.6,59.6L68.6,62.7L67.4,64.2L64.1,69.5L62.3,71.9L60.2,74.0L56.2,77.1L54.2,79.3L50.1,86.6L43.6,95.6L39.2,102.5L37.3,104.9L34.1,107.4L28.1,111.2L26.6,112.5L23.1,116.1L21.5,117.4L19.6,118.3L16.4,119.4L11.4,120.0L8.5,119.9L5.2,119.4L3.2,118.9L0.9,118.0L-1.8,116.7L-5.7,114.3Z" fill="#2a46ec"/><path d="M-3.9,112.5L-6.0,109.0L-7.3,106.3L-8.1,104.0L-8.6,102.1L-8.9,100.4L-9.0,97.4L-8.7,94.9L-8.1,92.7L-6.7,89.8L-4.8,87.5L-2.5,85.5L2.6,82.1L5.4,79.2L9.7,73.6L12.8,68.2L14.7,65.8L17.1,63.9L36.1,51.8L41.2,47.0L51.8,37.7L54.4,36.0L60.8,32.5L66.7,28.4L70.5,26.6L72.2,25.5L74.3,23.3L77.1,19.0L79.0,16.7L85.9,10.8L90.6,5.6L92.8,3.5L99.2,-1.5L101.4,-3.5L104.0,-6.5L107.4,-11.7L109.6,-13.7L116.7,-8.1L121.8,-1.6L120.5,1.4L119.4,3.2L117.2,5.2L113.5,7.2L111.9,8.4L110.6,9.9L108.2,13.2L106.0,15.3L104.3,16.4L99.6,18.8L97.3,20.8L93.0,27.8L91.0,30.1L85.3,35.7L83.3,38.0L77.3,47.6L74.2,51.6L70.0,55.9L68.8,57.5L65.6,62.8L63.8,65.3L61.2,68.4L55.7,74.2L50.7,80.5L44.4,87.0L42.6,89.5L38.8,95.6L35.4,100.7L33.9,102.1L30.0,105.2L28.5,106.6L27.3,108.2L24.6,112.6L23.4,114.2L21.8,115.5L20.9,116.0L17.6,117.0L13.8,117.4L8.1,117.4L4.9,117.0L2.8,116.3L0.3,115.3L-3.9,112.5Z" fill="#3262ff"/><path d="M56.6,52.0L55.9,49.9L55.6,46.8L55.8,45.6L56.5,43.5L57.6,41.7L58.8,40.1L64.6,34.6L68.6,28.7L69.9,27.2L71.5,26.0L76.4,23.8L78.2,22.7L84.9,16.7L86.7,15.7L90.8,14.2L92.5,13.0L94.2,10.5L96.0,6.6L98.5,2.0L99.6,0.3L100.9,-1.2L101.8,-1.8L104.2,-2.2L110.3,-1.7L110.8,4.5L110.2,6.7L109.6,7.4L108.7,8.0L105.2,10.1L102.8,12.0L100.7,14.1L98.3,17.4L95.7,20.4L91.6,23.4L90.1,24.8L88.9,26.4L85.8,31.8L81.7,37.6L79.5,39.6L74.3,42.9L72.0,44.9L70.8,46.5L69.0,50.3L67.8,52.0L67.1,52.7L65.2,53.6L62.9,54.1L61.4,54.0L59.7,53.7L56.6,52.0Z" fill="#408cff"/></g><rect width="108.6" height="108.6" fill="url(#grid2)"/><g filter="url(#bl1)"><path d="M-2.1,110.7L-4.8,105.2L-6.0,101.2L-6.4,96.6L-6.0,94.1L-5.7,93.0L-4.7,91.2L-2.7,88.9L-0.3,85.6L1.1,84.3L5.2,81.3L6.7,79.9L9.5,75.7L13.6,71.3L15.2,70.1L18.9,68.1L24.8,64.1L26.3,62.7L28.9,59.7L32.0,57.2L34.8,54.3L41.3,49.4L49.0,44.5L52.9,42.7L54.6,41.6L56.0,40.2L57.9,37.8L59.4,36.5L62.2,35.0L67.4,33.1L70.7,32.2L74.2,31.5L78.5,30.1L76.5,38.0L75.7,40.0L71.5,47.1L67.8,56.2L62.9,64.0L61.6,65.6L58.7,68.3L57.4,69.9L56.4,71.6L54.5,75.4L53.4,77.1L44.4,86.6L41.4,92.0L40.0,93.5L37.7,95.4L34.3,99.0L30.4,102.2L28.2,105.6L26.9,107.2L25.2,108.3L22.3,109.7L18.3,112.7L15.1,113.8L9.3,115.1L6.3,114.9L4.3,114.3L1.8,113.2L-2.1,110.7Z" fill="#408cff"/><path d="M-1.0,109.6L-3.3,105.9L-4.3,103.5L-4.8,101.5L-4.9,98.6L-4.7,97.4L-4.0,95.2L-2.6,92.4L-1.0,89.7L3.7,84.5L8.6,80.8L9.8,79.2L11.7,75.4L13.0,73.9L14.6,72.7L18.2,70.6L22.1,67.4L25.4,65.0L28.6,62.5L33.1,59.9L34.5,58.5L37.6,54.5L40.2,51.5L44.0,48.2L45.7,47.0L59.7,39.7L64.1,37.0L69.6,34.0L71.6,33.2L76.4,32.2L75.9,37.4L75.7,38.6L74.9,40.7L73.3,43.4L70.3,47.5L67.0,54.1L62.1,62.0L58.0,69.3L56.8,70.9L51.4,76.8L45.3,82.0L43.2,84.2L38.9,89.9L33.2,98.4L31.7,99.7L28.3,101.9L24.3,105.0L18.5,110.6L14.2,113.4L12.2,114.2L9.5,114.4L7.9,114.2L5.9,113.6L3.4,112.6L-1.0,109.6Z" fill="#5ce8ff"/><path d="M0.1,108.5L-1.8,103.6L-2.3,101.7L-2.4,98.7L-2.0,96.4L-0.7,93.3L0.8,90.6L8.2,80.9L9.8,79.6L14.1,76.8L18.9,73.1L23.2,70.2L24.8,68.9L28.8,64.4L30.4,63.2L35.9,60.1L39.5,56.6L43.9,53.8L46.6,50.8L48.1,49.5L54.2,47.0L59.7,43.9L66.6,40.9L70.0,38.6L69.4,42.3L68.7,44.5L67.6,46.2L64.6,50.3L60.3,57.4L57.6,63.2L56.3,64.8L51.8,68.9L50.7,70.6L48.9,74.5L47.8,76.3L41.3,84.1L33.9,93.7L32.5,95.2L27.7,99.0L25.0,101.9L21.3,105.4L18.1,109.3L15.3,110.8L13.2,111.5L10.8,112.0L8.0,112.1L6.2,111.7L4.0,110.9L0.1,108.5Z" fill="#80ffa0"/><path d="M1.1,107.5L-0.6,104.3L-1.3,102.2L-1.6,100.5L-1.4,97.9L-0.6,95.7L0.9,93.0L6.5,85.9L11.9,81.3L16.7,76.2L18.3,74.9L22.6,72.1L24.1,70.7L26.7,67.7L29.1,65.8L34.3,62.5L39.1,58.8L43.6,56.2L51.5,51.3L62.2,46.4L60.3,53.0L58.7,57.0L57.6,58.8L52.4,64.9L50.5,67.4L49.5,69.1L47.7,73.0L46.6,74.8L42.5,79.2L39.4,84.6L37.1,88.1L35.9,89.6L32.1,92.9L29.3,97.3L28.0,98.9L25.8,100.9L20.1,105.1L16.0,109.5L14.3,110.7L13.2,111.0L10.8,111.4L9.3,111.4L7.5,111.0L5.3,110.2L1.1,107.5Z" fill="#c8ff3c"/><path d="M2.0,106.6L-0.0,103.2L-0.6,101.2L-0.8,99.6L-0.7,98.2L-0.1,96.1L1.0,94.3L2.3,92.8L7.2,89.1L8.6,87.8L12.9,82.0L14.8,79.8L18.0,77.3L24.3,73.6L29.0,69.8L34.2,66.5L45.5,58.0L50.8,54.8L55.9,52.7L55.6,53.9L53.1,58.5L51.6,62.6L50.1,65.4L45.6,70.8L42.8,75.1L39.6,79.0L36.0,85.3L34.3,87.9L31.1,91.8L27.7,95.5L25.9,97.9L24.6,99.4L21.4,101.9L18.6,104.8L14.7,108.0L13.1,109.2L12.1,109.7L11.0,110.0L9.7,110.1L8.0,109.8L6.0,109.2L2.0,106.6Z" fill="#fff200"/><path d="M2.7,105.9L1.5,103.3L1.0,101.3L0.8,99.8L1.2,97.3L2.0,95.3L3.1,93.5L4.9,91.1L7.6,88.2L9.2,86.9L13.4,84.0L15.8,82.1L25.2,75.9L29.7,73.4L34.0,70.5L41.0,67.6L39.2,74.3L38.4,76.4L34.6,82.5L31.2,89.0L27.3,93.6L22.2,98.5L19.2,102.6L17.9,104.1L16.3,105.4L14.6,106.5L12.6,107.4L10.4,107.9L9.0,108.0L7.4,107.8L5.5,107.3L2.7,105.9Z" fill="#ffa010"/><path d="M3.1,105.5L1.9,102.8L1.3,100.8L1.2,99.2L1.3,98.0L1.7,96.9L2.9,95.3L5.8,92.4L10.5,87.1L14.1,83.5L15.8,82.4L20.9,80.3L28.7,75.2L33.7,73.0L37.5,71.1L36.5,75.8L35.6,77.9L32.3,83.1L27.6,92.7L25.7,95.1L17.7,102.9L14.2,106.5L12.5,107.8L11.5,108.2L10.4,108.4L8.8,108.4L6.9,107.9L3.1,105.5Z" fill="#ff5a14"/><path d="M3.5,105.1L2.5,102.6L2.0,100.7L1.9,99.2L2.0,97.9L2.3,96.8L3.2,94.8L5.7,91.7L8.0,89.8L13.0,86.2L16.8,82.9L23.6,78.5L27.4,76.6L34.6,74.0L34.5,75.3L34.0,77.6L33.3,79.6L27.1,91.9L26.5,92.6L23.4,95.2L20.5,99.4L18.2,101.3L16.8,102.8L14.6,106.3L13.8,106.9L12.9,107.3L10.3,107.6L6.7,106.8L3.5,105.1Z" fill="#fc2616"/><path d="M4.6,104.0L4.4,102.4L4.7,101.2L5.1,100.2L6.4,98.6L12.0,94.0L17.7,90.9L16.1,96.6L15.2,98.6L14.5,99.4L10.0,103.6L9.2,104.3L8.3,104.8L6.9,104.9L4.6,104.0Z" fill="#ec1a10"/><path d="M5.3,103.3L5.3,101.9L5.7,100.8L6.2,100.0L8.7,98.2L11.7,96.9L11.6,98.2L11.0,100.5L10.0,102.3L9.3,103.1L8.4,103.6L7.2,103.8L5.3,103.3Z" fill="#b00c0c"/></g><line x1="0" y1="108.6" x2="108.6" y2="0" stroke="#c83c3c" stroke-width="1.8" stroke-dasharray="19.5 12.5" stroke-dashoffset="3.3" opacity="0.6"/></g></g>
<g id="db"><rect width="108.6" height="108.6" fill="#2236c6"/><g clip-path="url(#clip108)"><g filter="url(#bl2)"><path d="M-4.2,112.8L-3.0,111.3L-4.1,108.7L-4.8,106.6L-5.5,103.1L-5.9,91.3L-5.8,88.7L-5.1,86.5L-3.5,83.9L-2.6,81.9L-1.6,77.3L-0.8,75.3L1.8,70.8L3.1,69.2L4.9,68.2L8.3,67.4L10.2,66.5L15.0,62.8L16.1,61.1L17.5,56.8L18.0,55.9L19.4,54.4L23.1,52.5L24.7,51.3L25.8,49.6L27.2,46.7L27.8,45.9L28.7,45.3L29.7,45.0L31.0,44.9L35.6,45.2L36.9,45.1L38.0,44.8L38.8,44.2L39.3,43.3L40.3,38.5L40.7,37.5L42.0,36.0L43.8,35.0L48.0,33.6L52.9,31.4L55.4,31.0L58.1,30.9L60.4,30.4L61.2,29.8L61.9,29.0L62.7,27.1L64.0,22.7L65.2,21.1L67.1,20.2L72.0,19.4L74.0,18.6L74.9,18.0L77.7,15.2L78.5,14.6L82.6,13.1L84.5,12.0L85.9,10.6L88.3,7.4L93.1,3.8L98.6,-2.2L101.1,-6.7L103.9,-12.4L106.9,-16.4L116.7,-8.1L123.4,0.0L117.4,4.0L115.8,5.2L115.2,6.0L114.8,7.0L114.1,12.0L113.7,13.0L112.9,13.7L112.0,14.1L108.6,15.0L107.7,15.5L107.0,16.2L105.0,19.8L104.3,20.5L103.3,21.0L99.1,22.4L98.2,22.9L97.5,23.6L97.0,24.6L96.7,25.7L96.8,31.5L96.6,32.7L96.1,33.6L94.6,34.9L91.0,37.0L89.6,38.4L89.2,39.4L88.3,42.8L88.1,49.7L87.9,50.9L87.5,51.8L86.8,52.5L85.8,52.9L82.0,53.5L81.0,53.8L80.2,54.5L79.7,55.3L77.9,60.7L75.7,64.1L74.2,65.4L70.2,67.1L68.6,68.3L68.1,69.2L67.2,71.1L65.2,77.7L64.1,80.7L59.9,87.9L58.6,89.4L52.6,93.3L50.6,94.1L47.1,94.9L46.0,95.2L45.2,95.8L44.5,96.6L44.1,97.5L43.2,100.8L42.6,101.7L41.1,103.0L37.3,104.9L35.8,106.2L34.0,108.7L32.5,109.9L30.3,110.6L29.0,110.7L25.8,110.4L19.0,109.2L17.7,109.3L16.7,109.7L16.1,110.5L15.8,111.6L15.4,115.5L14.9,116.5L14.3,117.2L13.4,117.7L11.2,118.4L8.8,118.8L7.3,118.8L5.6,118.5L3.3,117.6L0.4,116.0L-4.2,112.8Z" fill="#2a46ec"/><path d="M-2.5,111.1L-4.7,107.4L-6.0,104.7L-6.7,102.5L-7.1,100.8L-7.0,98.0L-6.5,95.7L-6.0,94.8L-4.8,93.2L-4.0,92.5L1.5,89.5L3.5,87.3L4.5,85.5L7.3,78.3L8.0,76.1L8.6,72.5L8.9,71.4L9.5,70.5L10.2,69.9L11.2,69.4L15.7,68.3L17.5,67.2L21.8,63.1L26.4,57.7L27.9,56.4L30.5,54.7L31.7,53.0L32.0,52.0L32.6,48.3L33.0,47.2L33.5,46.3L34.3,45.7L35.3,45.3L40.0,44.3L41.0,43.9L45.3,41.1L48.4,40.0L53.9,38.4L55.8,37.4L57.3,36.1L59.9,33.0L69.8,23.0L74.9,18.2L76.5,17.0L78.8,16.4L84.7,16.6L85.8,16.4L86.7,15.9L87.2,15.0L87.4,13.7L87.1,9.2L87.3,7.9L87.7,6.9L88.4,6.2L91.4,4.9L93.1,3.8L93.6,2.9L95.5,-0.8L96.2,-1.6L97.0,-2.2L99.3,-2.8L106.2,-3.0L109.9,-3.5L111.7,-4.5L112.4,-5.2L113.4,-7.1L114.1,-9.3L116.7,-8.1L118.9,-4.5L117.5,-3.0L116.5,-1.1L115.0,3.1L114.0,7.7L113.1,9.6L112.4,10.3L110.4,11.2L105.5,11.9L103.3,12.6L102.5,13.2L101.8,13.9L100.4,16.8L99.2,18.5L95.7,20.6L95.0,21.4L94.2,23.3L93.6,27.0L92.9,29.2L92.4,30.0L90.4,32.4L89.4,34.1L87.8,39.6L86.9,41.6L84.3,46.0L80.9,49.8L79.9,51.6L79.5,54.0L79.2,58.0L78.8,59.1L78.3,59.9L77.5,60.5L76.4,60.9L72.7,61.5L70.5,62.1L66.1,64.7L64.6,66.1L63.8,68.1L63.4,72.0L63.1,73.2L62.7,74.1L62.0,74.9L61.2,75.4L58.2,76.7L57.3,77.3L56.1,78.9L55.1,82.1L53.8,90.7L53.4,91.8L52.2,93.4L49.3,96.1L47.6,97.3L45.4,98.0L40.3,98.5L38.1,99.2L36.5,100.4L32.7,103.7L31.1,105.0L29.2,105.9L25.0,107.3L24.2,108.0L23.6,108.8L23.3,109.9L23.0,115.2L22.7,116.4L22.3,117.4L21.5,118.1L20.5,118.4L19.1,118.5L15.8,118.0L6.4,115.7L1.5,113.6L-2.5,111.1Z" fill="#3262ff"/><path d="M74.2,34.4L71.4,30.1L71.4,28.7L71.9,27.7L73.1,26.1L73.6,25.2L74.1,22.9L74.3,18.8L74.5,17.6L75.4,15.7L76.1,15.0L77.0,14.5L79.2,13.9L85.9,13.4L89.5,12.9L91.7,12.2L93.4,11.1L94.0,10.3L94.4,9.3L94.7,6.7L93.8,0.1L93.7,-1.3L94.0,-2.5L94.6,-3.3L95.5,-3.8L101.9,-5.9L103.2,-6.0L106.5,-5.5L112.4,-3.8L112.4,-2.4L113.0,-0.4L114.9,4.3L115.5,6.3L115.5,7.8L115.1,8.8L114.4,9.5L113.4,9.9L108.8,11.0L105.9,12.2L104.3,13.5L101.3,17.6L99.7,18.8L97.6,19.5L93.9,20.0L92.8,20.4L92.0,21.0L90.8,22.7L90.2,24.9L89.4,32.5L89.1,33.6L88.6,34.6L88.0,35.3L83.2,39.0L82.2,39.4L80.5,39.2L74.2,34.4Z" fill="#408cff"/></g><rect width="108.6" height="108.6" fill="url(#grid2)"/><g filter="url(#bl1)"><path d="M-0.7,109.3L-3.2,105.4L-4.5,101.3L-4.9,98.1L-4.9,96.6L-4.7,95.5L-4.1,94.6L-1.7,92.8L-1.2,91.9L-1.0,90.6L-1.5,85.9L-1.3,84.7L-0.8,83.7L-0.1,83.1L5.2,81.3L6.8,80.1L7.5,79.3L7.9,78.3L8.7,74.8L9.1,73.9L9.8,73.2L12.4,71.5L13.1,70.8L14.2,69.0L15.0,67.0L15.9,62.3L17.0,60.6L18.6,59.3L19.6,58.9L23.3,58.4L24.4,58.0L28.1,56.1L28.9,55.5L29.5,54.7L30.6,51.6L31.1,50.6L31.8,49.9L37.9,46.1L40.9,44.8L43.6,43.3L46.9,42.3L47.7,41.8L48.3,40.9L48.9,38.8L50.3,35.9L51.4,32.7L51.9,31.8L52.6,31.1L53.7,30.8L55.1,30.8L59.7,31.1L60.9,30.9L61.8,30.4L64.4,27.3L66.2,26.3L68.5,25.8L72.5,25.5L73.6,25.2L76.4,23.8L78.5,23.1L81.1,22.8L85.3,22.8L86.2,22.2L88.4,20.2L87.8,21.0L87.5,22.1L87.4,23.5L87.8,28.1L87.2,31.7L87.2,33.2L87.9,38.1L87.7,39.3L87.1,40.1L85.3,41.1L84.5,41.8L83.1,44.6L81.8,46.2L80.1,47.3L78.1,48.1L77.2,48.6L76.7,49.5L75.9,52.9L75.1,55.0L74.0,56.7L71.9,58.9L70.1,62.7L69.3,64.8L68.8,68.5L68.4,69.5L67.6,70.2L66.5,70.5L62.5,70.7L61.7,71.3L61.3,72.4L61.6,76.9L61.3,78.0L60.6,78.7L57.6,80.0L57.0,80.7L55.6,83.6L52.7,87.7L51.9,88.4L51.0,88.9L47.6,89.7L45.6,90.6L41.9,94.0L39.3,97.0L38.5,97.6L37.6,98.1L34.2,98.9L33.4,99.6L33.0,100.6L32.7,104.5L32.2,105.4L31.3,106.0L26.9,107.2L25.1,108.2L24.4,109.0L24.0,110.0L23.8,112.6L23.5,113.7L22.8,114.4L21.6,114.6L16.9,114.2L11.4,114.4L9.7,114.0L7.6,113.4L5.1,112.2L-0.7,109.3Z" fill="#408cff"/><path d="M0.4,108.2L-2.2,104.2L-2.8,102.1L-4.7,93.1L-4.8,91.6L-4.6,90.4L-4.1,89.4L-3.3,88.8L-2.2,88.5L2.2,88.6L3.2,88.3L3.8,87.5L4.1,86.3L3.7,81.7L3.8,80.3L4.2,79.3L4.9,78.6L7.8,77.3L9.6,76.2L10.3,75.5L12.0,73.0L14.3,71.0L14.8,70.0L15.5,66.5L16.1,65.7L19.3,63.2L21.1,62.2L24.7,61.5L25.9,61.3L26.8,60.8L27.5,60.1L30.6,56.0L31.0,55.0L31.9,51.7L32.5,50.8L33.3,50.3L36.4,49.1L37.2,48.5L39.3,46.3L40.1,45.7L43.2,44.6L44.0,43.9L44.5,43.0L45.2,40.9L45.7,39.9L46.5,39.3L47.6,39.0L51.6,38.8L52.6,38.4L55.1,36.6L57.8,35.0L61.4,31.5L62.1,30.8L63.5,28.0L64.4,27.4L65.6,27.2L70.3,27.7L71.6,27.6L72.7,27.2L78.5,21.7L79.4,21.2L86.3,22.3L85.0,26.7L84.8,29.3L84.3,31.7L82.6,35.7L82.4,38.4L82.7,42.9L82.5,44.1L82.0,45.0L81.2,45.6L78.4,47.1L74.3,51.6L72.7,55.5L70.3,58.9L68.8,63.0L68.1,63.8L66.3,64.8L61.1,66.7L60.2,67.2L59.5,68.0L59.1,68.9L58.3,73.8L57.3,75.7L55.2,77.8L48.5,82.5L46.4,84.6L45.4,86.5L45.1,87.6L44.0,93.6L43.5,94.5L42.9,95.3L42.0,95.8L40.8,96.1L36.8,96.3L35.5,96.5L34.6,96.9L33.9,97.7L32.5,100.6L31.9,101.3L25.4,107.6L21.4,110.7L20.5,111.2L19.3,111.5L16.6,111.6L5.9,110.8L3.9,110.2L0.4,108.2Z" fill="#5ce8ff"/><path d="M1.6,107.0L-2.2,101.9L-3.0,99.6L-3.3,97.9L-3.1,96.7L0.7,90.6L3.8,87.9L5.9,85.8L7.1,84.1L9.4,79.3L10.5,77.6L14.2,74.1L18.3,68.3L19.2,67.7L22.6,66.9L23.5,66.3L24.1,65.5L25.1,62.2L26.3,60.6L28.0,59.4L37.0,55.5L38.4,54.2L40.2,51.6L43.2,49.0L45.2,48.1L49.9,47.1L56.1,44.8L60.0,41.6L64.0,37.0L66.3,35.0L68.1,34.0L74.2,31.5L76.5,30.9L77.8,30.8L77.2,33.1L76.8,36.9L76.0,39.0L73.2,42.0L71.3,45.7L69.3,48.0L68.2,49.7L65.9,54.6L63.3,57.6L62.1,59.3L61.3,61.3L60.7,65.0L60.3,66.1L58.2,69.6L56.9,72.7L54.6,76.0L53.2,78.9L52.6,79.7L51.8,80.4L50.8,80.7L47.2,81.4L46.2,81.9L45.4,82.5L44.4,84.3L43.1,87.3L42.5,88.2L40.5,90.4L38.6,94.3L38.0,95.0L37.1,95.5L32.5,96.7L30.5,97.5L29.7,98.1L29.1,99.0L27.7,103.3L26.5,104.9L23.1,107.2L19.9,108.3L19.0,108.8L17.0,111.1L15.2,112.1L12.7,112.5L11.1,112.3L9.2,111.8L6.8,110.9L1.6,107.0Z" fill="#80ffa0"/><path d="M2.4,106.2L0.5,100.0L-0.0,96.7L0.0,93.9L0.6,91.6L1.1,90.6L3.2,88.5L4.5,85.5L5.1,84.7L5.9,84.1L8.8,82.7L12.1,80.3L15.1,79.0L15.9,78.4L16.4,77.5L17.6,74.4L18.3,73.7L19.2,73.2L22.4,72.1L23.2,71.4L23.7,70.5L25.0,66.1L26.3,64.6L28.2,63.6L33.2,62.9L34.2,62.5L36.5,60.5L37.4,60.0L40.9,59.2L42.9,58.4L45.9,55.6L48.6,51.3L51.8,48.8L53.6,47.7L55.7,46.9L59.7,46.7L62.2,46.4L62.1,47.7L61.6,50.0L60.5,53.2L59.5,57.9L59.0,58.8L58.3,59.5L55.2,60.7L54.5,61.4L53.9,62.3L53.0,65.6L52.2,67.6L50.8,69.1L47.2,71.3L46.6,72.1L46.3,73.2L46.1,75.8L45.8,76.9L45.1,77.7L42.4,79.3L40.2,81.3L39.1,83.1L38.0,86.2L37.4,87.1L36.6,87.7L33.8,89.2L33.1,89.9L32.6,90.8L32.3,91.9L31.8,95.7L31.3,98.1L30.3,99.9L28.6,101.1L24.5,102.7L22.6,103.6L21.0,104.9L19.5,107.6L18.8,108.3L17.2,109.6L15.1,110.4L12.6,110.7L11.0,110.6L9.2,110.2L7.0,109.3L2.4,106.2Z" fill="#c8ff3c"/><path d="M3.1,105.5L1.5,102.5L1.2,100.7L1.5,96.7L0.9,91.8L0.9,90.4L1.3,89.4L2.2,88.9L6.0,88.4L7.1,88.1L8.0,87.6L9.3,86.0L10.7,83.1L12.0,81.6L14.6,79.8L16.6,77.6L17.4,77.0L21.5,75.3L22.9,73.9L25.5,70.8L27.1,69.5L29.0,68.6L33.6,67.4L36.7,66.3L40.7,66.0L41.8,65.7L42.6,65.1L43.9,62.1L44.7,61.4L47.7,60.1L49.5,59.1L48.3,62.2L46.8,65.0L47.0,69.4L46.7,70.6L46.2,71.5L43.6,73.2L42.2,74.7L40.3,78.5L38.1,81.9L37.3,82.6L34.5,84.0L33.7,84.7L33.2,85.6L32.2,88.9L30.1,92.6L28.8,95.5L25.8,99.6L22.0,102.9L20.5,105.8L19.9,106.6L19.0,107.1L16.9,107.9L14.5,109.8L13.5,110.1L11.9,110.0L9.7,109.2L6.8,107.7L3.1,105.5Z" fill="#fff200"/><path d="M3.8,104.8L2.4,100.5L2.1,98.8L2.4,96.2L3.7,91.8L4.1,90.8L5.3,89.1L11.3,82.3L12.8,80.9L13.8,80.4L18.0,78.9L20.0,78.0L23.2,75.5L25.0,74.5L27.1,73.7L30.5,72.8L32.5,72.0L36.3,68.6L38.1,67.6L42.4,66.2L41.7,68.3L40.7,73.0L40.0,75.2L37.0,79.4L34.4,83.9L32.3,86.1L31.1,87.8L25.8,99.6L25.1,100.3L24.2,100.8L20.9,101.8L20.1,102.4L19.5,103.3L18.5,106.6L18.0,107.5L17.2,108.2L15.1,109.0L12.5,109.2L10.8,108.9L8.6,108.1L3.8,104.8Z" fill="#ffa010"/><path d="M4.2,104.4L2.1,100.8L1.6,98.9L1.3,97.2L1.6,94.6L2.5,92.7L3.2,92.0L5.9,90.4L6.6,89.8L7.2,89.0L8.5,86.0L9.1,85.2L10.1,84.7L13.7,84.1L15.7,83.3L19.1,81.0L19.8,80.3L22.2,77.0L23.8,75.9L26.6,74.4L32.3,73.0L39.6,69.0L39.3,70.1L37.2,75.1L36.5,78.6L35.8,80.7L32.4,85.9L30.1,90.6L28.4,94.5L27.2,96.2L25.7,97.5L22.2,99.7L16.6,104.0L11.9,106.4L10.9,106.7L9.4,106.7L7.5,106.2L4.2,104.4Z" fill="#ff5a14"/><path d="M4.7,103.9L3.7,101.5L2.6,97.5L2.4,96.0L2.6,94.7L3.6,92.9L8.7,88.0L11.3,84.9L12.8,83.6L13.8,83.1L18.5,82.2L20.4,81.2L22.8,79.3L25.3,76.1L27.0,74.9L32.5,73.3L38.2,70.4L35.8,78.0L33.2,84.0L32.0,85.6L29.0,88.3L26.8,91.8L24.1,94.8L22.9,96.5L21.2,100.5L17.4,105.3L14.9,107.0L13.9,107.4L12.6,107.6L11.0,107.4L8.8,106.6L4.7,103.9Z" fill="#fc2616"/><path d="M7.1,101.5L7.1,100.1L7.8,96.6L8.8,94.8L11.4,91.7L13.1,90.5L16.6,89.8L19.8,88.8L19.0,92.2L18.6,96.1L18.4,97.3L17.3,99.0L14.9,100.8L11.8,102.0L9.3,102.3L7.1,101.5Z" fill="#ec1a10"/><path d="M8.5,100.1L8.3,98.4L8.8,97.4L9.7,96.8L12.6,95.2L13.8,94.8L13.9,96.5L13.8,99.4L13.3,100.4L12.2,100.8L10.6,100.7L8.5,100.1Z" fill="#a80c0c"/><circle cx="102" cy="6" r="3.2" fill="#58c0ff"/><circle cx="90" cy="8" r="2.4" fill="#50a8ff"/><circle cx="86" cy="15" r="2.4" fill="#50a8ff"/><circle cx="90.5" cy="26.5" r="2.6" fill="#50a8ff"/><circle cx="73" cy="61" r="2.8" fill="#50a8ff"/><circle cx="64.5" cy="67.5" r="2.4" fill="#48a0ff"/><circle cx="43" cy="40" r="2.4" fill="#50a8ff"/><circle cx="62" cy="26" r="2.4" fill="#50a8ff"/><circle cx="97" cy="12" r="2.2" fill="#58c0ff"/></g><line x1="0" y1="108.6" x2="108.6" y2="0" stroke="#c83c3c" stroke-width="1.8" stroke-dasharray="19.5 12.5" stroke-dashoffset="3.3" opacity="0.6"/></g></g>
<linearGradient id="cb" x1="0" y1="0" x2="0" y2="1"><stop offset="0.0000" stop-color="rgb(232,37,42)"/><stop offset="0.1176" stop-color="rgb(245,80,63)"/><stop offset="0.2353" stop-color="rgb(251,138,88)"/><stop offset="0.3059" stop-color="rgb(253,184,112)"/><stop offset="0.3647" stop-color="rgb(254,220,128)"/><stop offset="0.4235" stop-color="rgb(254,245,144)"/><stop offset="0.4706" stop-color="rgb(248,252,152)"/><stop offset="0.5459" stop-color="rgb(234,253,180)"/><stop offset="0.6176" stop-color="rgb(216,253,216)"/><stop offset="0.7059" stop-color="rgb(191,252,240)"/><stop offset="0.8000" stop-color="rgb(152,230,234)"/><stop offset="0.8706" stop-color="rgb(120,200,232)"/><stop offset="0.9412" stop-color="rgb(92,166,236)"/><stop offset="1.0000" stop-color="rgb(68,134,240)"/></linearGradient>
</defs>
<text x="1.00" y="26.80" font-size="29.17" class="t" font-weight="bold">a</text>
<text x="158.50" y="67.80" font-size="29.17" class="t" text-anchor="middle">p53 ChIPseq binding</text>
<text x="158.50" y="102.20" font-size="29.17" class="t" text-anchor="middle">in neurons</text>
<use href="#da" x="32.80" y="254.30"/>
<g fill="none" stroke="#16161c" stroke-width="1.9">
<rect x="32.80" y="135.00" width="108.6" height="108.6"/>
<rect x="32.80" y="254.30" width="108.6" height="108.6" stroke="#141850"/>
<rect x="151.40" y="135.00" width="108.6" height="108.6"/>
<rect x="151.40" y="254.30" width="108.6" height="108.6"/>
<line x1="152.30" y1="135.00" x2="152.30" y2="129.70"/>
<line x1="178.60" y1="135.00" x2="178.60" y2="129.70"/>
<line x1="205.20" y1="135.00" x2="205.20" y2="129.70"/>
<line x1="231.60" y1="135.00" x2="231.60" y2="129.70"/>
<line x1="258.00" y1="135.00" x2="258.00" y2="129.70"/>
<line x1="260.00" y1="242.40" x2="265.50" y2="242.40"/>
<line x1="260.00" y1="214.70" x2="265.50" y2="214.70"/>
<line x1="260.00" y1="187.20" x2="265.50" y2="187.20"/>
<line x1="260.00" y1="159.50" x2="265.50" y2="159.50"/>
<line x1="33.40" y1="362.90" x2="33.40" y2="368.20"/>
<line x1="61.00" y1="362.90" x2="61.00" y2="368.20"/>
<line x1="88.40" y1="362.90" x2="88.40" y2="368.20"/>
<line x1="115.80" y1="362.90" x2="115.80" y2="368.20"/>
<line x1="32.80" y1="362.50" x2="27.30" y2="362.50"/>
<line x1="32.80" y1="336.20" x2="27.30" y2="336.20"/>
<line x1="32.80" y1="309.60" x2="27.30" y2="309.60"/>
<line x1="32.80" y1="283.20" x2="27.30" y2="283.20"/>
<line x1="32.80" y1="256.90" x2="27.30" y2="256.90"/>
</g>
<text x="152.30" y="125.70" text-anchor="middle">2</text>
<text x="178.60" y="125.70" text-anchor="middle">4</text>
<text x="205.20" y="125.70" text-anchor="middle">6</text>
<text x="231.60" y="125.70" text-anchor="middle">8</text>
<text x="249.40" y="125.70">10</text>
<text x="288.30" y="242.40" text-anchor="middle" transform="rotate(-90 288.30 242.40)">2</text>
<text x="288.30" y="214.70" text-anchor="middle" transform="rotate(-90 288.30 214.70)">4</text>
<text x="288.30" y="187.20" text-anchor="middle" transform="rotate(-90 288.30 187.20)">6</text>
<text x="288.30" y="159.50" text-anchor="middle" transform="rotate(-90 288.30 159.50)">8</text>
<text x="33.40" y="390.90" text-anchor="middle">2</text>
<text x="61.00" y="390.90" text-anchor="middle">4</text>
<text x="88.40" y="390.90" text-anchor="middle">6</text>
<text x="115.80" y="390.90" text-anchor="middle">8</text>
<text x="23.90" y="358.70" text-anchor="middle" transform="rotate(-90 23.90 358.70)">2</text>
<text x="23.90" y="332.40" text-anchor="middle" transform="rotate(-90 23.90 332.40)">4</text>
<text x="23.90" y="305.80" text-anchor="middle" transform="rotate(-90 23.90 305.80)">6</text>
<text x="23.90" y="279.40" text-anchor="middle" transform="rotate(-90 23.90 279.40)">8</text>
<text x="23.90" y="261.70" transform="rotate(-90 23.90 261.70)">10</text>
<text x="84.50" y="194.30" text-anchor="middle">p53</text>
<text x="84.50" y="224.10" text-anchor="middle">Rep1</text>
<text x="203.70" y="199.00" text-anchor="middle">0.93</text>
<text x="208.70" y="315.10" text-anchor="middle">p53</text>
<text x="208.70" y="344.70" text-anchor="middle">Rep2</text>
<text x="337.50" y="26.80" font-size="29.17" class="t" font-weight="bold">b</text>
<text x="489.00" y="67.80" font-size="29.17" class="t" text-anchor="middle">Trim24 ChIPseq binding</text>
<text x="489.00" y="102.20" font-size="29.17" class="t" text-anchor="middle">in neurons</text>
<use href="#db" x="365.30" y="254.30"/>
<g fill="none" stroke="#16161c" stroke-width="1.9">
<rect x="365.30" y="135.00" width="108.6" height="108.6"/>
<rect x="365.30" y="254.30" width="108.6" height="108.6" stroke="#141850"/>
<rect x="484.60" y="135.00" width="108.6" height="108.6"/>
<rect x="484.60" y="254.30" width="108.6" height="108.6"/>
<line x1="486.00" y1="135.00" x2="486.00" y2="129.70"/>
<line x1="506.85" y1="135.00" x2="506.85" y2="129.70"/>
<line x1="527.70" y1="135.00" x2="527.70" y2="129.70"/>
<line x1="548.55" y1="135.00" x2="548.55" y2="129.70"/>
<line x1="569.40" y1="135.00" x2="569.40" y2="129.70"/>
<line x1="590.25" y1="135.00" x2="590.25" y2="129.70"/>
<line x1="593.20" y1="242.60" x2="598.70" y2="242.60"/>
<line x1="593.20" y1="221.70" x2="598.70" y2="221.70"/>
<line x1="593.20" y1="200.80" x2="598.70" y2="200.80"/>
<line x1="593.20" y1="179.90" x2="598.70" y2="179.90"/>
<line x1="593.20" y1="159.00" x2="598.70" y2="159.00"/>
<line x1="593.20" y1="138.10" x2="598.70" y2="138.10"/>
<line x1="366.60" y1="362.90" x2="366.60" y2="368.20"/>
<line x1="387.42" y1="362.90" x2="387.42" y2="368.20"/>
<line x1="408.24" y1="362.90" x2="408.24" y2="368.20"/>
<line x1="429.06" y1="362.90" x2="429.06" y2="368.20"/>
<line x1="449.88" y1="362.90" x2="449.88" y2="368.20"/>
<line x1="470.70" y1="362.90" x2="470.70" y2="368.20"/>
<line x1="365.30" y1="362.00" x2="359.80" y2="362.00"/>
<line x1="365.30" y1="341.10" x2="359.80" y2="341.10"/>
<line x1="365.30" y1="320.20" x2="359.80" y2="320.20"/>
<line x1="365.30" y1="299.30" x2="359.80" y2="299.30"/>
<line x1="365.30" y1="278.40" x2="359.80" y2="278.40"/>
<line x1="365.30" y1="257.50" x2="359.80" y2="257.50"/>
</g>
<text x="479.05" y="125.70">2 3 4 5 6 7</text>
<text x="621.50" y="249.55" transform="rotate(-90 621.50 249.55)">2 3 4 5 6 7</text>
<text x="359.65" y="390.90">2 3 4 5 6 7</text>
<text x="356.40" y="365.15" transform="rotate(-90 356.40 365.15)">2 3 4 5 6 7</text>
<text x="417.90" y="196.00" text-anchor="middle">Trim24</text>
<text x="417.90" y="225.80" text-anchor="middle">Rep1</text>
<text x="537.30" y="199.00" text-anchor="middle">0.87</text>
<text x="538.10" y="315.10" text-anchor="middle">Trim24</text>
<text x="538.10" y="344.70" text-anchor="middle">Rep2</text>
<text x="1.00" y="476.70" font-size="29.17" class="t" font-weight="bold">c</text>
<text x="519.00" y="518.30" font-size="29.17" class="t" text-anchor="middle">ATACseq accessibility in neuronal cells</text>
<use href="#dc_fat1" transform="translate(37.40 690.40) scale(0.9689)"/>
<use href="#dc_mid0" transform="translate(37.40 812.40) scale(0.9689)"/>
<use href="#dc_fat1" transform="translate(159.40 812.40) scale(0.9689)"/>
<use href="#dc_mid1" transform="translate(37.40 934.40) scale(0.9689)"/>
<use href="#dc_fat0" transform="translate(159.40 934.40) scale(0.9689)"/>
<use href="#dc_mid1" transform="translate(281.40 934.40) scale(0.9689)"/>
<use href="#dc_fat0" transform="translate(37.40 1056.40) scale(0.9689)"/>
<use href="#dc_fat1" transform="translate(159.40 1056.40) scale(0.9689)"/>
<use href="#dc_mid0" transform="translate(281.40 1056.40) scale(0.9689)"/>
<use href="#dc_fat1" transform="translate(403.40 1056.40) scale(0.9689)"/>
<use href="#dc_fat1" transform="translate(37.40 1178.40) scale(0.9689)"/>
<use href="#dc_fat0" transform="translate(159.40 1178.40) scale(0.9689)"/>
<use href="#dc_mid1" transform="translate(281.40 1178.40) scale(0.9689)"/>
<use href="#dc_fat0" transform="translate(403.40 1178.40) scale(0.9689)"/>
<use href="#dc_thin1" transform="translate(525.40 1178.40) scale(0.9689)"/>
<use href="#dc_mid0" transform="translate(37.40 1300.40) scale(0.9689)"/>
<use href="#dc_fat1" transform="translate(159.40 1300.40) scale(0.9689)"/>
<use href="#dc_thin0" transform="translate(281.40 1300.40) scale(0.9689)"/>
<use href="#dc_mid1" transform="translate(403.40 1300.40) scale(0.9689)"/>
<use href="#dc_thin0" transform="translate(525.40 1300.40) scale(0.9689)"/>
<use href="#dc_thin1" transform="translate(647.40 1300.40) scale(0.9689)"/>
<use href="#dc_fat1" transform="translate(37.40 1422.40) scale(0.9689)"/>
<use href="#dc_fat0" transform="translate(159.40 1422.40) scale(0.9689)"/>
<use href="#dc_mid1" transform="translate(281.40 1422.40) scale(0.9689)"/>
<use href="#dc_fat0" transform="translate(403.40 1422.40) scale(0.9689)"/>
<use href="#dc_thin1" transform="translate(525.40 1422.40) scale(0.9689)"/>
<use href="#dc_thin0" transform="translate(647.40 1422.40) scale(0.9689)"/>
<use href="#dc_thin1" transform="translate(769.40 1422.40) scale(0.9689)"/>
<svg x="34.00" y="565.00" width="115.9" height="115.9" overflow="hidden">
<text x="10.20" y="60.00" font-size="24.4">Trim24</text>
<text x="10.20" y="90.20" font-size="24.4">Degr. R1</text>
</svg>
<svg x="156.00" y="687.00" width="115.9" height="115.9" overflow="hidden">
<text x="10.20" y="60.00" font-size="24.4">Trim24</text>
<text x="10.20" y="90.20" font-size="24.4">Degr. R2</text>
</svg>
<svg x="278.00" y="809.00" width="115.9" height="115.9" overflow="hidden">
<text x="10.20" y="61.00" font-size="24.4">Untr. R1</text>
</svg>
<svg x="400.00" y="931.00" width="115.9" height="115.9" overflow="hidden">
<text x="10.20" y="61.00" font-size="24.4">Untr. R2</text>
</svg>
<svg x="522.00" y="1053.00" width="115.9" height="115.9" overflow="hidden">
<text x="10.20" y="60.80" font-size="24.4">p53 Act.</text>
<text x="10.20" y="90.80" font-size="24.4">R1</text>
</svg>
<svg x="644.00" y="1175.00" width="115.9" height="115.9" overflow="hidden">
<text x="10.20" y="60.80" font-size="24.4">p53 Act.</text>
<text x="10.20" y="90.80" font-size="24.4">R2</text>
</svg>
<svg x="766.00" y="1297.00" width="115.9" height="115.9" overflow="hidden">
<text x="6.80" y="24.20" font-size="24.4">Trim24</text>
<text x="6.80" y="54.50" font-size="24.4">degr.</text>
<text x="6.80" y="84.80" font-size="24.4">p53 Act.</text>
<text x="6.80" y="115.10" font-size="24.4">R1</text>
</svg>
<svg x="888.00" y="1419.00" width="115.9" height="115.9" overflow="hidden">
<text x="6.80" y="24.20" font-size="24.4">Trim24</text>
<text x="6.80" y="54.50" font-size="24.4">degr.</text>
<text x="6.80" y="84.80" font-size="24.4">p53 Act.</text>
<text x="6.80" y="115.10" font-size="24.4">R1</text>
</svg>
<text x="211.75" y="632.10" text-anchor="middle">0.92</text>
<text x="333.75" y="632.10" text-anchor="middle">0.94</text>
<text x="455.75" y="632.10" text-anchor="middle">0.94</text>
<text x="577.75" y="632.10" text-anchor="middle">0.93</text>
<text x="699.75" y="632.10" text-anchor="middle">0.93</text>
<text x="821.75" y="632.10" text-anchor="middle">0.94</text>
<text x="943.75" y="632.10" text-anchor="middle">0.93</text>
<text x="333.75" y="754.10" text-anchor="middle">0.93</text>
<text x="455.75" y="754.10" text-anchor="middle">0.92</text>
<text x="577.75" y="754.10" text-anchor="middle">0.92</text>
<text x="699.75" y="754.10" text-anchor="middle">0.92</text>
<text x="821.75" y="754.10" text-anchor="middle">0.93</text>
<text x="943.75" y="754.10" text-anchor="middle">0.92</text>
<text x="455.75" y="876.10" text-anchor="middle">0.94</text>
<text x="577.75" y="876.10" text-anchor="middle">0.94</text>
<text x="699.75" y="876.10" text-anchor="middle">0.94</text>
<text x="821.75" y="876.10" text-anchor="middle">0.95</text>
<text x="943.75" y="876.10" text-anchor="middle">0.94</text>
<text x="577.75" y="998.10" text-anchor="middle">0.92</text>
<text x="699.75" y="998.10" text-anchor="middle">0.93</text>
<text x="821.75" y="998.10" text-anchor="middle">0.94</text>
<text x="943.75" y="998.10" text-anchor="middle">0.93</text>
<text x="699.75" y="1120.10" text-anchor="middle">0.95</text>
<text x="821.75" y="1120.10" text-anchor="middle">0.96</text>
<text x="943.75" y="1120.10" text-anchor="middle">0.95</text>
<text x="821.75" y="1242.10" text-anchor="middle">0.96</text>
<text x="943.75" y="1242.10" text-anchor="middle">0.95</text>
<text x="943.75" y="1364.10" text-anchor="middle">0.96</text>
<g fill="none" stroke="#000" stroke-width="3.4" stroke-linejoin="round">
<rect x="35.70" y="566.70" width="112.50" height="112.50"/>
<rect x="157.70" y="566.70" width="112.50" height="112.50"/>
<rect x="279.70" y="566.70" width="112.50" height="112.50"/>
<rect x="401.70" y="566.70" width="112.50" height="112.50"/>
<rect x="523.70" y="566.70" width="112.50" height="112.50"/>
<rect x="645.70" y="566.70" width="112.50" height="112.50"/>
<rect x="767.70" y="566.70" width="112.50" height="112.50"/>
<rect x="889.70" y="566.70" width="112.50" height="112.50"/>
<rect x="35.70" y="688.70" width="112.50" height="112.50"/>
<rect x="157.70" y="688.70" width="112.50" height="112.50"/>
<rect x="279.70" y="688.70" width="112.50" height="112.50"/>
<rect x="401.70" y="688.70" width="112.50" height="112.50"/>
<rect x="523.70" y="688.70" width="112.50" height="112.50"/>
<rect x="645.70" y="688.70" width="112.50" height="112.50"/>
<rect x="767.70" y="688.70" width="112.50" height="112.50"/>
<rect x="889.70" y="688.70" width="112.50" height="112.50"/>
<rect x="35.70" y="810.70" width="112.50" height="112.50"/>
<rect x="157.70" y="810.70" width="112.50" height="112.50"/>
<rect x="279.70" y="810.70" width="112.50" height="112.50"/>
<rect x="401.70" y="810.70" width="112.50" height="112.50"/>
<rect x="523.70" y="810.70" width="112.50" height="112.50"/>
<rect x="645.70" y="810.70" width="112.50" height="112.50"/>
<rect x="767.70" y="810.70" width="112.50" height="112.50"/>
<rect x="889.70" y="810.70" width="112.50" height="112.50"/>
<rect x="35.70" y="932.70" width="112.50" height="112.50"/>
<rect x="157.70" y="932.70" width="112.50" height="112.50"/>
<rect x="279.70" y="932.70" width="112.50" height="112.50"/>
<rect x="401.70" y="932.70" width="112.50" height="112.50"/>
<rect x="523.70" y="932.70" width="112.50" height="112.50"/>
<rect x="645.70" y="932.70" width="112.50" height="112.50"/>
<rect x="767.70" y="932.70" width="112.50" height="112.50"/>
<rect x="889.70" y="932.70" width="112.50" height="112.50"/>
<rect x="35.70" y="1054.70" width="112.50" height="112.50"/>
<rect x="157.70" y="1054.70" width="112.50" height="112.50"/>
<rect x="279.70" y="1054.70" width="112.50" height="112.50"/>
<rect x="401.70" y="1054.70" width="112.50" height="112.50"/>
<rect x="523.70" y="1054.70" width="112.50" height="112.50"/>
<rect x="645.70" y="1054.70" width="112.50" height="112.50"/>
<rect x="767.70" y="1054.70" width="112.50" height="112.50"/>
<rect x="889.70" y="1054.70" width="112.50" height="112.50"/>
<rect x="35.70" y="1176.70" width="112.50" height="112.50"/>
<rect x="157.70" y="1176.70" width="112.50" height="112.50"/>
<rect x="279.70" y="1176.70" width="112.50" height="112.50"/>
<rect x="401.70" y="1176.70" width="112.50" height="112.50"/>
<rect x="523.70" y="1176.70" width="112.50" height="112.50"/>
<rect x="645.70" y="1176.70" width="112.50" height="112.50"/>
<rect x="767.70" y="1176.70" width="112.50" height="112.50"/>
<rect x="889.70" y="1176.70" width="112.50" height="112.50"/>
<rect x="35.70" y="1298.70" width="112.50" height="112.50"/>
<rect x="157.70" y="1298.70" width="112.50" height="112.50"/>
<rect x="279.70" y="1298.70" width="112.50" height="112.50"/>
<rect x="401.70" y="1298.70" width="112.50" height="112.50"/>
<rect x="523.70" y="1298.70" width="112.50" height="112.50"/>
<rect x="645.70" y="1298.70" width="112.50" height="112.50"/>
<rect x="767.70" y="1298.70" width="112.50" height="112.50"/>
<rect x="889.70" y="1298.70" width="112.50" height="112.50"/>
<rect x="35.70" y="1420.70" width="112.50" height="112.50"/>
<rect x="157.70" y="1420.70" width="112.50" height="112.50"/>
<rect x="279.70" y="1420.70" width="112.50" height="112.50"/>
<rect x="401.70" y="1420.70" width="112.50" height="112.50"/>
<rect x="523.70" y="1420.70" width="112.50" height="112.50"/>
<rect x="645.70" y="1420.70" width="112.50" height="112.50"/>
<rect x="767.70" y="1420.70" width="112.50" height="112.50"/>
<rect x="889.70" y="1420.70" width="112.50" height="112.50"/>
</g>
<g fill="none" stroke="#000" stroke-width="3.1">
<line x1="161.10" y1="566.00" x2="161.10" y2="560.40"/>
<line x1="181.26" y1="566.00" x2="181.26" y2="560.40"/>
<line x1="201.42" y1="566.00" x2="201.42" y2="560.40"/>
<line x1="221.58" y1="566.00" x2="221.58" y2="560.40"/>
<line x1="241.74" y1="566.00" x2="241.74" y2="560.40"/>
<line x1="261.90" y1="566.00" x2="261.90" y2="560.40"/>
<line x1="405.10" y1="566.00" x2="405.10" y2="560.40"/>
<line x1="425.30" y1="566.00" x2="425.30" y2="560.40"/>
<line x1="445.50" y1="566.00" x2="445.50" y2="560.40"/>
<line x1="465.70" y1="566.00" x2="465.70" y2="560.40"/>
<line x1="485.90" y1="566.00" x2="485.90" y2="560.40"/>
<line x1="506.10" y1="566.00" x2="506.10" y2="560.40"/>
<line x1="649.10" y1="566.00" x2="649.10" y2="560.40"/>
<line x1="669.45" y1="566.00" x2="669.45" y2="560.40"/>
<line x1="689.80" y1="566.00" x2="689.80" y2="560.40"/>
<line x1="710.15" y1="566.00" x2="710.15" y2="560.40"/>
<line x1="730.50" y1="566.00" x2="730.50" y2="560.40"/>
<line x1="750.85" y1="566.00" x2="750.85" y2="560.40"/>
<line x1="893.10" y1="566.00" x2="893.10" y2="560.40"/>
<line x1="913.85" y1="566.00" x2="913.85" y2="560.40"/>
<line x1="934.60" y1="566.00" x2="934.60" y2="560.40"/>
<line x1="955.35" y1="566.00" x2="955.35" y2="560.40"/>
<line x1="976.10" y1="566.00" x2="976.10" y2="560.40"/>
<line x1="996.85" y1="566.00" x2="996.85" y2="560.40"/>
<line x1="39.10" y1="1533.90" x2="39.10" y2="1539.50"/>
<line x1="59.75" y1="1533.90" x2="59.75" y2="1539.50"/>
<line x1="80.40" y1="1533.90" x2="80.40" y2="1539.50"/>
<line x1="101.05" y1="1533.90" x2="101.05" y2="1539.50"/>
<line x1="121.70" y1="1533.90" x2="121.70" y2="1539.50"/>
<line x1="142.35" y1="1533.90" x2="142.35" y2="1539.50"/>
<line x1="283.10" y1="1533.90" x2="283.10" y2="1539.50"/>
<line x1="303.77" y1="1533.90" x2="303.77" y2="1539.50"/>
<line x1="324.44" y1="1533.90" x2="324.44" y2="1539.50"/>
<line x1="345.11" y1="1533.90" x2="345.11" y2="1539.50"/>
<line x1="365.78" y1="1533.90" x2="365.78" y2="1539.50"/>
<line x1="386.45" y1="1533.90" x2="386.45" y2="1539.50"/>
<line x1="527.10" y1="1533.90" x2="527.10" y2="1539.50"/>
<line x1="547.97" y1="1533.90" x2="547.97" y2="1539.50"/>
<line x1="568.84" y1="1533.90" x2="568.84" y2="1539.50"/>
<line x1="589.71" y1="1533.90" x2="589.71" y2="1539.50"/>
<line x1="610.58" y1="1533.90" x2="610.58" y2="1539.50"/>
<line x1="631.45" y1="1533.90" x2="631.45" y2="1539.50"/>
<line x1="771.10" y1="1533.90" x2="771.10" y2="1539.50"/>
<line x1="791.90" y1="1533.90" x2="791.90" y2="1539.50"/>
<line x1="812.70" y1="1533.90" x2="812.70" y2="1539.50"/>
<line x1="833.50" y1="1533.90" x2="833.50" y2="1539.50"/>
<line x1="854.30" y1="1533.90" x2="854.30" y2="1539.50"/>
<line x1="875.10" y1="1533.90" x2="875.10" y2="1539.50"/>
<line x1="1002.90" y1="675.80" x2="1008.50" y2="675.80"/>
<line x1="1002.90" y1="655.15" x2="1008.50" y2="655.15"/>
<line x1="1002.90" y1="634.50" x2="1008.50" y2="634.50"/>
<line x1="1002.90" y1="613.85" x2="1008.50" y2="613.85"/>
<line x1="1002.90" y1="593.20" x2="1008.50" y2="593.20"/>
<line x1="1002.90" y1="572.55" x2="1008.50" y2="572.55"/>
<line x1="1002.90" y1="919.80" x2="1008.50" y2="919.80"/>
<line x1="1002.90" y1="899.13" x2="1008.50" y2="899.13"/>
<line x1="1002.90" y1="878.46" x2="1008.50" y2="878.46"/>
<line x1="1002.90" y1="857.79" x2="1008.50" y2="857.79"/>
<line x1="1002.90" y1="837.12" x2="1008.50" y2="837.12"/>
<line x1="1002.90" y1="816.45" x2="1008.50" y2="816.45"/>
<line x1="1002.90" y1="1163.80" x2="1008.50" y2="1163.80"/>
<line x1="1002.90" y1="1142.93" x2="1008.50" y2="1142.93"/>
<line x1="1002.90" y1="1122.06" x2="1008.50" y2="1122.06"/>
<line x1="1002.90" y1="1101.19" x2="1008.50" y2="1101.19"/>
<line x1="1002.90" y1="1080.32" x2="1008.50" y2="1080.32"/>
<line x1="1002.90" y1="1059.45" x2="1008.50" y2="1059.45"/>
<line x1="1002.90" y1="1407.80" x2="1008.50" y2="1407.80"/>
<line x1="1002.90" y1="1387.00" x2="1008.50" y2="1387.00"/>
<line x1="1002.90" y1="1366.20" x2="1008.50" y2="1366.20"/>
<line x1="1002.90" y1="1345.40" x2="1008.50" y2="1345.40"/>
<line x1="1002.90" y1="1324.60" x2="1008.50" y2="1324.60"/>
<line x1="1002.90" y1="1303.80" x2="1008.50" y2="1303.80"/>
<line x1="35.00" y1="797.80" x2="29.40" y2="797.80"/>
<line x1="35.00" y1="777.64" x2="29.40" y2="777.64"/>
<line x1="35.00" y1="757.48" x2="29.40" y2="757.48"/>
<line x1="35.00" y1="737.32" x2="29.40" y2="737.32"/>
<line x1="35.00" y1="717.16" x2="29.40" y2="717.16"/>
<line x1="35.00" y1="697.00" x2="29.40" y2="697.00"/>
<line x1="35.00" y1="1041.80" x2="29.40" y2="1041.80"/>
<line x1="35.00" y1="1021.60" x2="29.40" y2="1021.60"/>
<line x1="35.00" y1="1001.40" x2="29.40" y2="1001.40"/>
<line x1="35.00" y1="981.20" x2="29.40" y2="981.20"/>
<line x1="35.00" y1="961.00" x2="29.40" y2="961.00"/>
<line x1="35.00" y1="940.80" x2="29.40" y2="940.80"/>
<line x1="35.00" y1="1285.80" x2="29.40" y2="1285.80"/>
<line x1="35.00" y1="1265.45" x2="29.40" y2="1265.45"/>
<line x1="35.00" y1="1245.10" x2="29.40" y2="1245.10"/>
<line x1="35.00" y1="1224.75" x2="29.40" y2="1224.75"/>
<line x1="35.00" y1="1204.40" x2="29.40" y2="1204.40"/>
<line x1="35.00" y1="1184.05" x2="29.40" y2="1184.05"/>
<line x1="35.00" y1="1529.80" x2="29.40" y2="1529.80"/>
<line x1="35.00" y1="1509.05" x2="29.40" y2="1509.05"/>
<line x1="35.00" y1="1488.30" x2="29.40" y2="1488.30"/>
<line x1="35.00" y1="1467.55" x2="29.40" y2="1467.55"/>
<line x1="35.00" y1="1446.80" x2="29.40" y2="1446.80"/>
<line x1="35.00" y1="1426.05" x2="29.40" y2="1426.05"/>
</g>
<text x="161.60" y="559.60" font-size="24.5" text-anchor="middle">0</text>
<text x="181.76" y="559.60" font-size="24.5" text-anchor="middle">2</text>
<text x="201.92" y="559.60" font-size="24.5" text-anchor="middle">4</text>
<text x="222.08" y="559.60" font-size="24.5" text-anchor="middle">6</text>
<text x="242.24" y="559.60" font-size="24.5" text-anchor="middle">8</text>
<text x="267.50" y="559.60" font-size="24.5" text-anchor="middle">10</text>
<text x="405.60" y="559.60" font-size="24.5" text-anchor="middle">0</text>
<text x="425.80" y="559.60" font-size="24.5" text-anchor="middle">2</text>
<text x="446.00" y="559.60" font-size="24.5" text-anchor="middle">4</text>
<text x="466.20" y="559.60" font-size="24.5" text-anchor="middle">6</text>
<text x="486.40" y="559.60" font-size="24.5" text-anchor="middle">8</text>
<text x="511.70" y="559.60" font-size="24.5" text-anchor="middle">10</text>
<text x="649.60" y="559.60" font-size="24.5" text-anchor="middle">0</text>
<text x="669.95" y="559.60" font-size="24.5" text-anchor="middle">2</text>
<text x="690.30" y="559.60" font-size="24.5" text-anchor="middle">4</text>
<text x="710.65" y="559.60" font-size="24.5" text-anchor="middle">6</text>
<text x="731.00" y="559.60" font-size="24.5" text-anchor="middle">8</text>
<text x="756.45" y="559.60" font-size="24.5" text-anchor="middle">10</text>
<text x="893.60" y="559.60" font-size="24.5" text-anchor="middle">0</text>
<text x="914.35" y="559.60" font-size="24.5" text-anchor="middle">2</text>
<text x="935.10" y="559.60" font-size="24.5" text-anchor="middle">4</text>
<text x="955.85" y="559.60" font-size="24.5" text-anchor="middle">6</text>
<text x="976.60" y="559.60" font-size="24.5" text-anchor="middle">8</text>
<text x="1002.45" y="559.60" font-size="24.5" text-anchor="middle">10</text>
<text x="39.60" y="1557.20" font-size="24.5" text-anchor="middle">0</text>
<text x="60.25" y="1557.20" font-size="24.5" text-anchor="middle">2</text>
<text x="80.90" y="1557.20" font-size="24.5" text-anchor="middle">4</text>
<text x="101.55" y="1557.20" font-size="24.5" text-anchor="middle">6</text>
<text x="122.20" y="1557.20" font-size="24.5" text-anchor="middle">8</text>
<text x="147.95" y="1557.20" font-size="24.5" text-anchor="middle">10</text>
<text x="283.60" y="1557.20" font-size="24.5" text-anchor="middle">0</text>
<text x="304.27" y="1557.20" font-size="24.5" text-anchor="middle">2</text>
<text x="324.94" y="1557.20" font-size="24.5" text-anchor="middle">4</text>
<text x="345.61" y="1557.20" font-size="24.5" text-anchor="middle">6</text>
<text x="366.28" y="1557.20" font-size="24.5" text-anchor="middle">8</text>
<text x="392.05" y="1557.20" font-size="24.5" text-anchor="middle">10</text>
<text x="527.60" y="1557.20" font-size="24.5" text-anchor="middle">0</text>
<text x="548.47" y="1557.20" font-size="24.5" text-anchor="middle">2</text>
<text x="569.34" y="1557.20" font-size="24.5" text-anchor="middle">4</text>
<text x="590.21" y="1557.20" font-size="24.5" text-anchor="middle">6</text>
<text x="611.08" y="1557.20" font-size="24.5" text-anchor="middle">8</text>
<text x="637.05" y="1557.20" font-size="24.5" text-anchor="middle">10</text>
<text x="771.60" y="1557.20" font-size="24.5" text-anchor="middle">0</text>
<text x="792.40" y="1557.20" font-size="24.5" text-anchor="middle">2</text>
<text x="813.20" y="1557.20" font-size="24.5" text-anchor="middle">4</text>
<text x="834.00" y="1557.20" font-size="24.5" text-anchor="middle">6</text>
<text x="854.80" y="1557.20" font-size="24.5" text-anchor="middle">8</text>
<text x="880.70" y="1557.20" font-size="24.5" text-anchor="middle">10</text>
<text x="1026.70" y="685.90" font-size="24.5" transform="rotate(-90 1026.70 685.90)" letter-spacing="-0.2">0 2 4 6 8 10</text>
<text x="1026.70" y="929.90" font-size="24.5" transform="rotate(-90 1026.70 929.90)" letter-spacing="-0.2">0 2 4 6 8 10</text>
<text x="1026.70" y="1173.90" font-size="24.5" transform="rotate(-90 1026.70 1173.90)" letter-spacing="-0.2">0 2 4 6 8 10</text>
<text x="1026.70" y="1417.90" font-size="24.5" transform="rotate(-90 1026.70 1417.90)" letter-spacing="-0.2">0 2 4 6 8 10</text>
<text x="24.30" y="809.10" font-size="24.5" transform="rotate(-90 24.30 809.10)" letter-spacing="-0.2">0 2 4 6 8 10</text>
<text x="24.30" y="1053.10" font-size="24.5" transform="rotate(-90 24.30 1053.10)" letter-spacing="-0.2">0 2 4 6 8 10</text>
<text x="24.30" y="1297.10" font-size="24.5" transform="rotate(-90 24.30 1297.10)" letter-spacing="-0.2">0 2 4 6 8 10</text>
<text x="24.30" y="1541.10" font-size="24.5" transform="rotate(-90 24.30 1541.10)" letter-spacing="-0.2">0 2 4 6 8 10</text>
<text x="1128.40" y="474.90" font-size="29.17" class="t" font-weight="bold">d</text>
<text x="1411.50" y="518.90" font-size="29.17" class="t" text-anchor="middle">ATACseq cor. in neuronal cells</text>
<g shape-rendering="crispEdges">
<rect x="1296.40" y="635.30" width="38.74" height="39.20" fill="#7dcfe6"/>
<rect x="1334.84" y="635.30" width="38.74" height="39.20" fill="#b5f2ec"/>
<rect x="1373.28" y="635.30" width="38.74" height="39.20" fill="#c5fcf0"/>
<rect x="1411.72" y="635.30" width="38.74" height="39.20" fill="#d8fde4"/>
<rect x="1450.16" y="635.30" width="38.74" height="39.20" fill="#f7fda6"/>
<rect x="1488.60" y="635.30" width="38.74" height="39.20" fill="#f7fda6"/>
<rect x="1527.04" y="635.30" width="38.74" height="39.20" fill="#fbf28c"/>
<rect x="1565.48" y="635.30" width="38.74" height="39.20" fill="#e8161d"/>
<rect x="1296.40" y="674.20" width="38.74" height="39.20" fill="#4f9ae8"/>
<rect x="1334.84" y="674.20" width="38.74" height="39.20" fill="#82d5e8"/>
<rect x="1373.28" y="674.20" width="38.74" height="39.20" fill="#9de5ea"/>
<rect x="1411.72" y="674.20" width="38.74" height="39.20" fill="#b5f5ee"/>
<rect x="1450.16" y="674.20" width="38.74" height="39.20" fill="#eafcc0"/>
<rect x="1488.60" y="674.20" width="38.74" height="39.20" fill="#eefcb4"/>
<rect x="1527.04" y="674.20" width="38.74" height="39.20" fill="#e8161d"/>
<rect x="1565.48" y="674.20" width="38.74" height="39.20" fill="#fbf28c"/>
<rect x="1296.40" y="713.10" width="38.74" height="39.20" fill="#3c7ef5"/>
<rect x="1334.84" y="713.10" width="38.74" height="39.20" fill="#6bb8e8"/>
<rect x="1373.28" y="713.10" width="38.74" height="39.20" fill="#82d5e8"/>
<rect x="1411.72" y="713.10" width="38.74" height="39.20" fill="#a8eeea"/>
<rect x="1450.16" y="713.10" width="38.74" height="39.20" fill="#dffdd8"/>
<rect x="1488.60" y="713.10" width="38.74" height="39.20" fill="#e8161d"/>
<rect x="1527.04" y="713.10" width="38.74" height="39.20" fill="#eefcb4"/>
<rect x="1565.48" y="713.10" width="38.74" height="39.20" fill="#f7fda6"/>
<rect x="1296.40" y="752.00" width="38.74" height="39.20" fill="#4f97e8"/>
<rect x="1334.84" y="752.00" width="38.74" height="39.20" fill="#82d5e8"/>
<rect x="1373.28" y="752.00" width="38.74" height="39.20" fill="#97e3e8"/>
<rect x="1411.72" y="752.00" width="38.74" height="39.20" fill="#a8eeea"/>
<rect x="1450.16" y="752.00" width="38.74" height="39.20" fill="#e8161d"/>
<rect x="1488.60" y="752.00" width="38.74" height="39.20" fill="#dffdd8"/>
<rect x="1527.04" y="752.00" width="38.74" height="39.20" fill="#eafcc0"/>
<rect x="1565.48" y="752.00" width="38.74" height="39.20" fill="#f7fda6"/>
<rect x="1296.40" y="790.90" width="38.74" height="39.20" fill="#70c0e6"/>
<rect x="1334.84" y="790.90" width="38.74" height="39.20" fill="#b2f2ea"/>
<rect x="1373.28" y="790.90" width="38.74" height="39.20" fill="#bdf8ee"/>
<rect x="1411.72" y="790.90" width="38.74" height="39.20" fill="#e8161d"/>
<rect x="1450.16" y="790.90" width="38.74" height="39.20" fill="#a8eeea"/>
<rect x="1488.60" y="790.90" width="38.74" height="39.20" fill="#a8eeea"/>
<rect x="1527.04" y="790.90" width="38.74" height="39.20" fill="#b5f5ee"/>
<rect x="1565.48" y="790.90" width="38.74" height="39.20" fill="#d8fde4"/>
<rect x="1296.40" y="829.80" width="38.74" height="39.20" fill="#6bb8e8"/>
<rect x="1334.84" y="829.80" width="38.74" height="39.20" fill="#a5ebe8"/>
<rect x="1373.28" y="829.80" width="38.74" height="39.20" fill="#e8161d"/>
<rect x="1411.72" y="829.80" width="38.74" height="39.20" fill="#bdf8ee"/>
<rect x="1450.16" y="829.80" width="38.74" height="39.20" fill="#97e3e8"/>
<rect x="1488.60" y="829.80" width="38.74" height="39.20" fill="#82d5e8"/>
<rect x="1527.04" y="829.80" width="38.74" height="39.20" fill="#9de5ea"/>
<rect x="1565.48" y="829.80" width="38.74" height="39.20" fill="#c5fcf0"/>
<rect x="1296.40" y="868.70" width="38.74" height="39.20" fill="#5aa5e8"/>
<rect x="1334.84" y="868.70" width="38.74" height="39.20" fill="#e8161d"/>
<rect x="1373.28" y="868.70" width="38.74" height="39.20" fill="#a5ebe8"/>
<rect x="1411.72" y="868.70" width="38.74" height="39.20" fill="#b2f2ea"/>
<rect x="1450.16" y="868.70" width="38.74" height="39.20" fill="#82d5e8"/>
<rect x="1488.60" y="868.70" width="38.74" height="39.20" fill="#6bb8e8"/>
<rect x="1527.04" y="868.70" width="38.74" height="39.20" fill="#82d5e8"/>
<rect x="1565.48" y="868.70" width="38.74" height="39.20" fill="#b5f2ec"/>
<rect x="1296.40" y="907.60" width="38.74" height="39.20" fill="#e8161d"/>
<rect x="1334.84" y="907.60" width="38.74" height="39.20" fill="#5aa5e8"/>
<rect x="1373.28" y="907.60" width="38.74" height="39.20" fill="#6bb8e8"/>
<rect x="1411.72" y="907.60" width="38.74" height="39.20" fill="#70c0e6"/>
<rect x="1450.16" y="907.60" width="38.74" height="39.20" fill="#4f97e8"/>
<rect x="1488.60" y="907.60" width="38.74" height="39.20" fill="#3c7ef5"/>
<rect x="1527.04" y="907.60" width="38.74" height="39.20" fill="#4f9ae8"/>
<rect x="1565.48" y="907.60" width="38.74" height="39.20" fill="#7dcfe6"/>
</g>
<g fill="none" stroke="#000" stroke-width="3.4" stroke-linejoin="miter" stroke-linecap="butt">
<path d="M1546.3,624.8V586.2H1584.7V624.8"/>
<path d="M1507.8,624.8V577.3H1565.5V586.2"/>
<path d="M1469.4,624.8V572.3H1536.7V577.3"/>
<path d="M1392.5,624.8V563.4H1430.9V624.8"/>
<path d="M1354.1,624.8V560.5H1411.7V563.4"/>
<path d="M1382.9,560.5V544.3H1503.0V572.3"/>
<path d="M1315.6,624.8V531.4" stroke-width="2.8"/>
<path d="M1314.2,532.5H1443.0" stroke-width="2.2"/>
<path d="M1443.0,531.4V544.3" stroke-width="2.8"/>
<path d="M1279.4,654.8H1217.1V693.6H1279.4"/>
<path d="M1279.4,732.5H1201.8V674.2H1217.1"/>
<path d="M1279.4,771.4H1193.8V703.4H1201.8"/>
<path d="M1279.4,810.3H1181.1V849.2H1279.4"/>
<path d="M1279.4,888.1H1173.8V829.8H1181.1"/>
<path d="M1193.8,737.4H1150.2V859.0H1173.8"/>
<path d="M1279.4,927.0H1128.4" stroke-width="3.0"/>
<path d="M1129.5,928.5V798.2" stroke-width="2.2"/>
<path d="M1128.4,798.2H1150.2" stroke-width="2.8"/>
</g>
<text x="1620.40" y="663.35" font-size="24.75" xml:space="preserve">Trim24 Degr.  p53 Act. R1</text>
<text x="1620.40" y="702.25" font-size="24.75" xml:space="preserve">Trim24 Degr.  p53 Act. R2</text>
<text x="1620.40" y="741.15" font-size="24.75" xml:space="preserve">p53 Act. R1</text>
<text x="1620.40" y="780.05" font-size="24.75" xml:space="preserve">p53 Act. R2</text>
<text x="1620.40" y="818.95" font-size="24.75" xml:space="preserve">Untr. R1</text>
<text x="1620.40" y="857.85" font-size="24.75" xml:space="preserve">Trim24 Degr. R1</text>
<text x="1620.40" y="896.75" font-size="24.75" xml:space="preserve">Untr. R2</text>
<text x="1620.40" y="935.65" font-size="24.75" xml:space="preserve">Trim24 Degr. R2</text>
<text x="1307.20" y="959.20" font-size="24.9" transform="rotate(90 1307.20 959.20)" xml:space="preserve">Trim24 Degr. R2</text>
<text x="1346.12" y="959.20" font-size="24.9" transform="rotate(90 1346.12 959.20)" xml:space="preserve">Untr. R2</text>
<text x="1385.04" y="959.20" font-size="24.9" transform="rotate(90 1385.04 959.20)" xml:space="preserve">Trim24 Degr. R1</text>
<text x="1423.96" y="959.20" font-size="24.9" transform="rotate(90 1423.96 959.20)" xml:space="preserve">Untr. R1</text>
<text x="1462.88" y="959.20" font-size="24.9" transform="rotate(90 1462.88 959.20)" xml:space="preserve">p53 Act. R2</text>
<text x="1501.80" y="959.20" font-size="24.9" transform="rotate(90 1501.80 959.20)" xml:space="preserve">p53 Act. R1</text>
<text x="1540.72" y="959.20" font-size="24.9" transform="rotate(90 1540.72 959.20)" xml:space="preserve">Trim24 Degr.  p53 Act. R2</text>
<text x="1579.64" y="959.20" font-size="24.9" transform="rotate(90 1579.64 959.20)" xml:space="preserve">Trim24 Degr.  p53 Act. R1</text>
<rect x="1946.6" y="540.6" width="30.4" height="282.0" fill="url(#cb)"/>
<text x="1983.40" y="547.70" font-size="24.6">1</text>
<text x="1983.40" y="614.20" font-size="24.6">0.98</text>
<text x="1983.40" y="680.40" font-size="24.6">0.96</text>
<text x="1983.40" y="747.00" font-size="24.6">0.94</text>
<text x="1983.40" y="812.80" font-size="24.6">0.92</text>
</svg>
</body></html>
